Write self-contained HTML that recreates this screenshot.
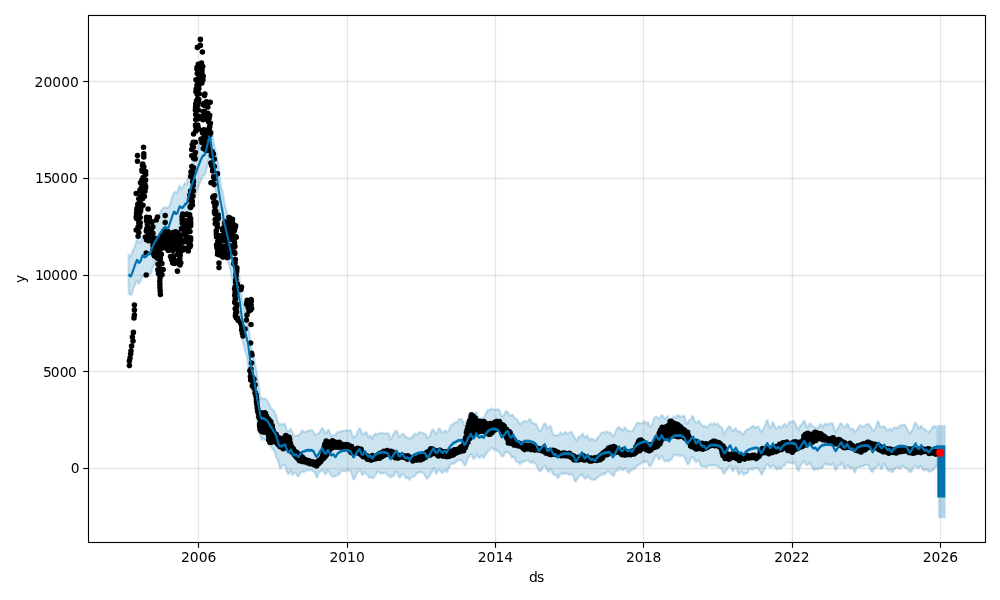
<!DOCTYPE html>
<html lang="en"><head><meta charset="utf-8"><title>Forecast plot</title>
<style>
html,body{margin:0;padding:0;background:#fff;}
body{width:1000px;height:600px;overflow:hidden;}
svg{display:block;}
text{font-family:"DejaVu Sans","Liberation Sans",sans-serif;font-size:13.89px;fill:#000;}
</style></head><body>
<svg width="1000" height="600" viewBox="0 0 1000 600">
<rect x="0" y="0" width="1000" height="600" fill="#fff"/>
<clipPath id="ax"><rect x="88.5" y="15.5" width="897.0" height="527.0"/></clipPath>
<g clip-path="url(#ax)">
<path d="M128.60,254.4 129.60,256.1 130.60,256.5 131.60,254.3 132.60,251.1 133.60,249.1 134.60,246.9 135.60,243.8 136.60,240.4 137.60,239.6 138.60,241.7 139.60,243.0 140.60,242.2 141.60,238.8 142.60,235.9 143.60,236.9 144.60,238.6 145.60,238.7 146.60,236.3 147.60,233.8 148.60,233.7 149.60,234.1 150.60,232.8 151.60,230.0 152.60,226.8 153.60,224.2 154.60,221.8 155.60,219.7 156.60,218.1 157.60,216.6 158.60,215.5 159.60,214.1 160.60,211.8 161.60,209.9 162.60,208.8 163.60,207.6 164.60,207.2 165.60,207.5 166.60,208.1 167.60,207.7 168.60,207.5 169.60,205.8 170.60,202.5 171.60,198.6 172.60,195.9 173.60,193.8 174.60,191.8 175.60,191.8 176.60,192.8 177.60,192.0 178.60,187.9 179.60,185.5 180.60,187.9 181.60,188.7 182.60,187.6 183.60,185.5 184.60,183.1 185.60,183.7 186.60,183.7 187.60,179.5 188.60,174.3 189.60,171.3 190.60,168.5 191.60,164.8 192.60,161.4 193.60,158.5 194.60,156.2 195.60,154.1 196.60,151.6 197.60,148.7 198.60,144.7 199.60,140.1 200.60,137.8 201.60,137.8 202.60,137.0 203.60,136.4 204.60,134.0 205.60,130.4 206.60,127.0 207.60,124.3 208.60,120.4 209.60,117.5 210.60,120.6 211.60,126.7 212.60,135.8 213.60,142.2 214.60,146.9 215.60,151.1 216.60,153.9 217.60,159.6 218.60,166.9 219.60,175.2 220.60,183.8 221.60,188.8 222.60,191.8 223.60,197.6 224.60,203.9 225.60,207.9 226.60,211.0 227.60,214.7 228.60,219.6 229.60,224.3 230.60,229.1 231.60,234.5 232.60,239.0 233.60,244.6 234.60,252.0 235.60,258.5 236.60,263.8 237.60,268.3 238.60,273.6 239.60,279.2 240.60,287.0 241.60,295.4 242.60,301.8 243.60,304.6 244.60,307.9 245.60,313.2 246.60,319.3 247.60,324.0 248.60,328.6 249.60,335.7 250.60,343.2 251.60,349.5 252.60,353.5 253.60,356.5 254.60,361.2 255.60,366.1 256.60,372.0 257.60,378.5 258.60,384.3 259.60,391.1 260.60,397.7 261.60,398.8 262.60,398.4 263.60,398.4 264.60,398.6 265.60,398.7 266.60,400.0 267.60,401.8 268.60,402.9 269.60,404.8 270.60,407.5 271.60,408.8 272.60,409.4 273.60,410.5 274.60,411.7 275.60,414.2 276.60,416.9 277.60,420.4 278.60,423.9 279.60,425.3 280.60,423.7 281.60,424.1 282.60,424.8 283.60,424.1 284.60,423.6 285.60,425.4 286.60,429.6 287.60,431.3 288.60,431.1 289.60,429.9 290.60,428.6 291.60,430.4 292.60,432.8 293.60,435.0 294.60,436.3 295.60,435.9 296.60,435.8 297.60,435.6 298.60,435.0 299.60,434.4 300.60,433.3 301.60,431.1 302.60,430.5 303.60,431.8 304.60,432.1 305.60,432.0 306.60,431.3 307.60,430.5 308.60,430.6 309.60,430.7 310.60,430.2 311.60,430.0 312.60,430.6 313.60,432.0 314.60,434.7 315.60,435.0 316.60,434.4 317.60,433.8 318.60,433.7 319.60,432.1 320.60,430.1 321.60,429.0 322.60,428.0 323.60,429.8 324.60,432.1 325.60,433.2 326.60,432.9 327.60,430.6 328.60,429.7 329.60,431.7 330.60,434.6 331.60,436.3 332.60,435.5 333.60,435.1 334.60,435.5 335.60,434.7 336.60,433.0 337.60,432.0 338.60,431.6 339.60,431.9 340.60,431.8 341.60,431.1 342.60,430.8 343.60,431.1 344.60,430.8 345.60,430.3 346.60,430.2 347.60,430.5 348.60,430.8 349.60,430.4 350.60,430.3 351.60,432.4 352.60,435.6 353.60,437.8 354.60,436.3 355.60,435.9 356.60,434.5 357.60,431.5 358.60,429.8 359.60,428.2 360.60,429.2 361.60,432.3 362.60,434.5 363.60,434.5 364.60,433.1 365.60,431.8 366.60,432.5 367.60,434.8 368.60,437.3 369.60,436.9 370.60,435.2 371.60,437.0 372.60,438.9 373.60,436.3 374.60,434.0 375.60,433.5 376.60,434.0 377.60,434.3 378.60,433.6 379.60,433.2 380.60,433.1 381.60,432.7 382.60,432.8 383.60,433.5 384.60,433.7 385.60,433.2 386.60,433.2 387.60,433.3 388.60,433.3 389.60,435.7 390.60,439.4 391.60,437.9 392.60,435.1 393.60,433.5 394.60,432.5 395.60,431.3 396.60,430.5 397.60,432.8 398.60,435.5 399.60,436.9 400.60,435.9 401.60,434.4 402.60,433.9 403.60,433.8 404.60,435.2 405.60,437.4 406.60,437.6 407.60,437.1 408.60,438.4 409.60,439.2 410.60,437.3 411.60,437.1 412.60,437.3 413.60,434.9 414.60,433.4 415.60,434.5 416.60,435.2 417.60,434.2 418.60,432.7 419.60,432.3 420.60,432.4 421.60,432.3 422.60,432.8 423.60,433.6 424.60,433.6 425.60,434.2 426.60,436.6 427.60,438.4 428.60,436.8 429.60,436.0 430.60,434.2 431.60,430.9 432.60,429.6 433.60,429.7 434.60,432.1 435.60,434.2 436.60,433.7 437.60,431.0 438.60,428.7 439.60,428.5 440.60,429.9 441.60,431.7 442.60,432.9 443.60,432.2 444.60,430.5 445.60,430.6 446.60,432.3 447.60,431.9 448.60,430.7 449.60,428.5 450.60,425.5 451.60,424.7 452.60,425.1 453.60,423.5 454.60,422.4 455.60,422.5 456.60,422.3 457.60,421.5 458.60,419.7 459.60,419.1 460.60,419.3 461.60,419.0 462.60,420.7 463.60,424.0 464.60,425.1 465.60,422.9 466.60,420.8 467.60,419.0 468.60,416.7 469.60,414.9 470.60,413.5 471.60,415.2 472.60,417.8 473.60,417.0 474.60,414.2 475.60,412.6 476.60,413.0 477.60,415.5 478.60,418.2 479.60,419.8 480.60,419.2 481.60,418.0 482.60,417.7 483.60,417.9 484.60,416.4 485.60,414.0 486.60,411.7 487.60,410.2 488.60,410.1 489.60,410.1 490.60,409.0 491.60,408.3 492.60,409.4 493.60,409.7 494.60,409.3 495.60,409.9 496.60,409.9 497.60,409.2 498.60,409.3 499.60,410.1 500.60,413.2 501.60,416.3 502.60,416.1 503.60,415.5 504.60,413.7 505.60,411.0 506.60,411.1 507.60,411.9 508.60,413.5 509.60,415.4 510.60,415.6 511.60,414.5 512.60,414.6 513.60,416.6 514.60,417.9 515.60,418.5 516.60,419.5 517.60,419.9 518.60,422.1 519.60,423.9 520.60,424.0 521.60,422.9 522.60,421.9 523.60,421.6 524.60,420.7 525.60,420.9 526.60,422.0 527.60,421.6 528.60,420.2 529.60,419.0 530.60,419.8 531.60,422.0 532.60,422.8 533.60,423.0 534.60,423.9 535.60,424.1 536.60,424.5 537.60,427.3 538.60,429.7 539.60,430.8 540.60,431.1 541.60,429.1 542.60,426.5 543.60,424.8 544.60,423.2 545.60,424.1 546.60,426.6 547.60,428.4 548.60,428.2 549.60,426.4 550.60,425.8 551.60,428.9 552.60,433.3 553.60,435.0 554.60,434.7 555.60,435.8 556.60,435.6 557.60,435.0 558.60,435.0 559.60,433.7 560.60,432.5 561.60,433.5 562.60,434.6 563.60,433.7 564.60,432.0 565.60,431.8 566.60,432.9 567.60,434.0 568.60,433.5 569.60,432.5 570.60,431.9 571.60,431.9 572.60,433.8 573.60,435.6 574.60,437.3 575.60,439.6 576.60,440.5 577.60,439.0 578.60,437.1 579.60,436.5 580.60,436.8 581.60,434.8 582.60,433.5 583.60,435.6 584.60,437.4 585.60,437.3 586.60,435.4 587.60,435.7 588.60,439.3 589.60,440.0 590.60,438.6 591.60,438.6 592.60,439.2 593.60,439.4 594.60,440.3 595.60,440.7 596.60,439.5 597.60,437.8 598.60,436.6 599.60,435.7 600.60,434.0 601.60,432.7 602.60,432.3 603.60,432.3 604.60,433.4 605.60,432.8 606.60,431.2 607.60,431.8 608.60,432.5 609.60,432.5 610.60,432.7 611.60,434.4 612.60,435.9 613.60,436.1 614.60,434.2 615.60,431.3 616.60,429.1 617.60,428.1 618.60,426.9 619.60,427.3 620.60,428.8 621.60,429.6 622.60,430.6 623.60,429.3 624.60,427.3 625.60,428.0 626.60,429.9 627.60,430.7 628.60,430.4 629.60,430.9 630.60,431.3 631.60,431.3 632.60,430.8 633.60,428.9 634.60,426.9 635.60,425.6 636.60,423.5 637.60,422.4 638.60,423.1 639.60,423.5 640.60,423.4 641.60,423.2 642.60,423.0 643.60,422.1 644.60,421.4 645.60,423.0 646.60,424.1 647.60,422.1 648.60,422.9 649.60,425.9 650.60,426.9 651.60,425.5 652.60,422.8 653.60,419.2 654.60,417.5 655.60,416.9 656.60,416.7 657.60,417.7 658.60,418.5 659.60,418.6 660.60,416.7 661.60,414.9 662.60,415.6 663.60,416.8 664.60,418.5 665.60,419.4 666.60,417.3 667.60,415.9 668.60,418.1 669.60,419.1 670.60,418.4 671.60,418.9 672.60,418.0 673.60,416.4 674.60,417.4 675.60,418.0 676.60,415.9 677.60,414.9 678.60,415.5 679.60,416.7 680.60,417.0 681.60,416.4 682.60,416.2 683.60,415.7 684.60,416.3 685.60,420.8 686.60,423.8 687.60,423.3 688.60,420.6 689.60,419.8 690.60,419.7 691.60,417.4 692.60,415.6 693.60,417.3 694.60,421.0 695.60,422.6 696.60,422.7 697.60,421.8 698.60,420.6 699.60,422.0 700.60,423.9 701.60,424.7 702.60,425.5 703.60,426.3 704.60,425.8 705.60,426.3 706.60,427.5 707.60,427.3 708.60,426.2 709.60,424.2 710.60,423.4 711.60,424.7 712.60,424.7 713.60,423.5 714.60,423.5 715.60,424.6 716.60,424.3 717.60,423.5 718.60,424.8 719.60,426.3 720.60,426.8 721.60,427.2 722.60,429.4 723.60,433.0 724.60,434.5 725.60,431.3 726.60,429.5 727.60,428.2 728.60,426.4 729.60,426.3 730.60,427.0 731.60,429.1 732.60,430.5 733.60,431.0 734.60,429.8 735.60,428.1 736.60,429.8 737.60,431.4 738.60,431.2 739.60,431.1 740.60,431.7 741.60,433.3 742.60,434.5 743.60,433.7 744.60,432.0 745.60,430.6 746.60,429.7 747.60,429.3 748.60,429.3 749.60,428.5 750.60,427.2 751.60,427.2 752.60,426.1 753.60,425.7 754.60,427.3 755.60,427.7 756.60,427.1 757.60,426.7 758.60,426.7 759.60,428.9 760.60,431.0 761.60,431.8 762.60,430.0 763.60,428.5 764.60,426.7 765.60,423.8 766.60,420.7 767.60,420.1 768.60,424.4 769.60,427.7 770.60,427.9 771.60,425.3 772.60,422.0 773.60,423.1 774.60,426.0 775.60,427.5 776.60,428.4 777.60,427.7 778.60,426.2 779.60,426.4 780.60,428.0 781.60,427.5 782.60,426.0 783.60,424.7 784.60,423.6 785.60,425.1 786.60,426.6 787.60,425.3 788.60,423.1 789.60,421.7 790.60,421.5 791.60,422.1 792.60,421.9 793.60,421.0 794.60,422.2 795.60,424.4 796.60,426.6 797.60,428.9 798.60,429.8 799.60,426.7 800.60,424.9 801.60,424.5 802.60,423.2 803.60,421.4 804.60,420.6 805.60,424.1 806.60,426.9 807.60,426.9 808.60,425.5 809.60,423.6 810.60,423.6 811.60,424.9 812.60,426.0 813.60,426.5 814.60,427.0 815.60,428.1 816.60,429.2 817.60,428.8 818.60,426.6 819.60,425.1 820.60,424.0 821.60,425.2 822.60,427.0 823.60,425.7 824.60,423.6 825.60,424.2 826.60,424.9 827.60,423.8 828.60,423.5 829.60,423.8 830.60,423.4 831.60,423.1 832.60,423.3 833.60,426.2 834.60,430.4 835.60,432.3 836.60,430.0 837.60,428.5 838.60,426.9 839.60,424.7 840.60,423.6 841.60,423.3 842.60,425.3 843.60,426.6 844.60,427.1 845.60,426.7 846.60,424.0 847.60,423.6 848.60,425.8 849.60,427.9 850.60,429.8 851.60,429.4 852.60,428.3 853.60,429.8 854.60,431.9 855.60,431.2 856.60,430.3 857.60,428.8 858.60,426.5 859.60,425.4 860.60,425.4 861.60,425.9 862.60,426.3 863.60,426.7 864.60,426.2 865.60,424.7 866.60,424.2 867.60,423.9 868.60,424.1 869.60,425.2 870.60,426.7 871.60,428.3 872.60,430.4 873.60,430.6 874.60,429.5 875.60,427.4 876.60,423.9 877.60,421.3 878.60,421.7 879.60,425.1 880.60,427.2 881.60,427.3 882.60,426.8 883.60,426.0 884.60,426.4 885.60,427.9 886.60,429.2 887.60,430.4 888.60,429.7 889.60,428.5 890.60,429.6 891.60,430.9 892.60,429.1 893.60,427.6 894.60,428.0 895.60,427.9 896.60,427.3 897.60,427.8 898.60,427.4 899.60,425.8 900.60,425.3 901.60,424.9 902.60,425.0 903.60,424.8 904.60,424.4 905.60,426.2 906.60,428.1 907.60,429.3 908.60,431.9 909.60,433.8 910.60,432.1 911.60,431.1 912.60,429.8 913.60,426.5 914.60,423.5 915.60,422.5 916.60,424.4 917.60,426.2 918.60,427.9 919.60,428.3 920.60,426.0 921.60,425.8 922.60,428.3 923.60,428.7 924.60,428.9 925.60,430.0 926.60,430.9 927.60,431.7 928.60,432.1 929.60,431.1 930.60,430.7 931.60,429.2 932.60,427.0 933.60,425.9 934.60,425.8 935.60,427.3 936.60,427.4 937.60,426.1 937.60,466.8 936.60,466.2 935.60,466.2 934.60,468.0 933.60,469.7 932.60,470.4 931.60,471.2 930.60,471.3 929.60,471.2 928.60,471.4 927.60,470.3 926.60,469.7 925.60,469.8 924.60,470.1 923.60,470.5 922.60,469.4 921.60,466.7 920.60,465.9 919.60,467.1 918.60,468.3 917.60,468.2 916.60,466.8 915.60,465.6 914.60,466.7 913.60,467.5 912.60,469.2 911.60,471.5 910.60,471.9 909.60,472.2 908.60,471.3 907.60,469.3 906.60,468.1 905.60,467.9 904.60,467.4 903.60,466.7 902.60,465.8 901.60,466.6 900.60,468.5 899.60,468.7 898.60,467.7 897.60,467.0 896.60,467.3 895.60,468.5 894.60,469.2 893.60,470.0 892.60,472.1 891.60,472.4 890.60,469.4 889.60,469.4 888.60,471.2 887.60,470.3 886.60,467.9 885.60,465.8 884.60,464.1 883.60,464.6 882.60,467.3 881.60,469.4 880.60,468.4 879.60,465.6 878.60,464.1 877.60,465.5 876.60,466.7 875.60,467.8 874.60,468.8 873.60,470.2 872.60,472.0 871.60,471.7 870.60,470.1 869.60,467.8 868.60,465.4 867.60,464.4 866.60,465.1 865.60,465.0 864.60,465.1 863.60,466.2 862.60,466.4 861.60,465.9 860.60,466.6 859.60,467.4 858.60,467.2 857.60,467.2 856.60,468.1 855.60,470.8 854.60,472.7 853.60,469.6 852.60,467.1 851.60,467.9 850.60,468.6 849.60,467.9 848.60,466.8 847.60,465.2 846.60,465.8 845.60,468.2 844.60,468.6 843.60,466.8 842.60,463.3 841.60,462.4 840.60,465.3 839.60,465.4 838.60,465.3 837.60,467.1 836.60,468.9 835.60,470.2 834.60,467.9 833.60,464.9 832.60,463.8 831.60,464.3 830.60,465.0 829.60,465.4 828.60,464.3 827.60,464.1 826.60,465.0 825.60,464.0 824.60,463.1 823.60,465.5 822.60,468.0 821.60,468.4 820.60,468.2 819.60,467.8 818.60,468.8 817.60,469.9 816.60,468.6 815.60,468.7 814.60,470.2 813.60,469.7 812.60,467.7 811.60,466.2 810.60,463.8 809.60,462.5 808.60,463.9 807.60,464.9 806.60,465.1 805.60,463.4 804.60,460.9 803.60,462.3 802.60,463.3 801.60,464.0 800.60,465.6 799.60,468.1 798.60,471.0 797.60,469.5 796.60,466.9 795.60,464.3 794.60,462.3 793.60,462.1 792.60,463.5 791.60,463.5 790.60,462.7 789.60,462.7 788.60,462.9 787.60,462.3 786.60,462.3 785.60,463.9 784.60,465.3 783.60,465.9 782.60,466.0 781.60,467.5 780.60,469.1 779.60,468.1 778.60,467.0 777.60,468.5 776.60,470.1 775.60,468.1 774.60,466.3 773.60,465.7 772.60,465.4 771.60,467.0 770.60,467.4 769.60,466.7 768.60,466.1 767.60,464.1 766.60,464.5 765.60,466.6 764.60,468.9 763.60,471.3 762.60,473.2 761.60,474.7 760.60,472.7 759.60,470.6 758.60,469.1 757.60,468.2 756.60,468.0 755.60,468.0 754.60,468.0 753.60,469.2 752.60,469.7 751.60,469.7 750.60,469.4 749.60,468.5 748.60,470.2 747.60,473.0 746.60,473.4 745.60,473.0 744.60,474.2 743.60,475.0 742.60,473.2 741.60,471.6 740.60,472.3 739.60,474.2 738.60,474.2 737.60,471.7 736.60,468.1 735.60,466.2 734.60,468.1 733.60,470.8 732.60,471.4 731.60,468.4 730.60,465.5 729.60,466.0 728.60,467.3 727.60,469.2 726.60,470.3 725.60,470.8 724.60,473.3 723.60,473.7 722.60,471.7 721.60,469.1 720.60,468.1 719.60,467.7 718.60,467.2 717.60,466.2 716.60,465.6 715.60,465.6 714.60,465.6 713.60,465.1 712.60,465.2 711.60,465.3 710.60,465.5 709.60,466.0 708.60,465.0 707.60,465.5 706.60,467.6 705.60,467.4 704.60,466.3 703.60,466.2 702.60,466.6 701.60,466.4 700.60,465.5 699.60,462.4 698.60,459.9 697.60,461.0 696.60,461.9 695.60,461.7 694.60,460.4 693.60,457.9 692.60,457.1 691.60,457.3 690.60,459.3 689.60,462.1 688.60,463.9 687.60,464.2 686.60,461.9 685.60,459.9 684.60,457.4 683.60,455.6 682.60,455.3 681.60,455.8 680.60,456.0 679.60,456.1 678.60,455.2 677.60,454.8 676.60,455.5 675.60,455.3 674.60,454.8 673.60,455.6 672.60,457.6 671.60,459.2 670.60,459.8 669.60,460.4 668.60,461.6 667.60,461.5 666.60,460.3 665.60,461.0 664.60,461.7 663.60,460.1 662.60,457.5 661.60,456.0 660.60,457.7 659.60,459.6 658.60,459.5 657.60,457.3 656.60,455.1 655.60,455.6 654.60,457.9 653.60,460.5 652.60,462.2 651.60,464.0 650.60,466.2 649.60,466.2 648.60,464.6 647.60,462.6 646.60,461.6 645.60,461.2 644.60,462.1 643.60,462.6 642.60,462.3 641.60,462.7 640.60,464.1 639.60,464.6 638.60,464.6 637.60,465.7 636.60,466.2 635.60,467.2 634.60,468.9 633.60,469.3 632.60,469.3 631.60,470.2 630.60,471.0 629.60,472.1 628.60,473.2 627.60,471.9 626.60,469.3 625.60,468.1 624.60,468.6 623.60,470.2 622.60,469.6 621.60,469.6 620.60,469.6 619.60,467.1 618.60,468.3 617.60,471.0 616.60,470.4 615.60,471.4 614.60,474.1 613.60,475.9 612.60,475.6 611.60,474.4 610.60,473.2 609.60,472.6 608.60,471.5 607.60,471.7 606.60,472.5 605.60,473.2 604.60,474.6 603.60,474.7 602.60,473.6 601.60,474.3 600.60,475.6 599.60,475.9 598.60,476.8 597.60,477.3 596.60,477.7 595.60,479.5 594.60,480.2 593.60,479.4 592.60,479.7 591.60,479.8 590.60,478.9 589.60,478.7 588.60,477.4 587.60,475.4 586.60,477.5 585.60,479.0 584.60,478.3 583.60,477.3 582.60,474.9 581.60,474.2 580.60,475.6 579.60,476.3 578.60,476.7 577.60,478.3 576.60,480.6 575.60,481.7 574.60,480.7 573.60,477.5 572.60,474.6 571.60,473.7 570.60,474.6 569.60,475.2 568.60,474.5 567.60,473.5 566.60,473.9 565.60,473.7 564.60,473.0 563.60,474.0 562.60,474.2 561.60,473.5 560.60,473.7 559.60,475.3 558.60,477.6 557.60,478.0 556.60,475.9 555.60,475.2 554.60,475.2 553.60,474.5 552.60,473.3 551.60,470.8 550.60,468.9 549.60,470.8 548.60,472.2 547.60,470.8 546.60,469.2 545.60,467.0 544.60,465.6 543.60,466.9 542.60,468.1 541.60,469.8 540.60,471.5 539.60,471.4 538.60,469.9 537.60,467.9 536.60,465.3 535.60,463.5 534.60,463.5 533.60,462.6 532.60,461.7 531.60,462.7 530.60,462.7 529.60,461.7 528.60,460.8 527.60,460.3 526.60,460.4 525.60,460.8 524.60,461.7 523.60,462.3 522.60,461.7 521.60,461.8 520.60,463.8 519.60,463.9 518.60,462.3 517.60,461.9 516.60,461.8 515.60,460.6 514.60,458.1 513.60,456.4 512.60,457.4 511.60,457.5 510.60,455.2 509.60,453.5 508.60,452.2 507.60,451.9 506.60,452.7 505.60,451.9 504.60,453.2 503.60,456.0 502.60,456.6 501.60,456.3 500.60,454.4 499.60,452.3 498.60,451.6 497.60,451.1 496.60,450.1 495.60,449.5 494.60,449.8 493.60,449.6 492.60,448.5 491.60,448.2 490.60,448.6 489.60,449.9 488.60,451.1 487.60,452.0 486.60,453.4 485.60,454.7 484.60,456.5 483.60,458.0 482.60,456.5 481.60,455.5 480.60,456.6 479.60,458.0 478.60,457.5 477.60,455.3 476.60,454.3 475.60,456.2 474.60,458.3 473.60,458.8 472.60,457.5 471.60,454.9 470.60,454.2 469.60,456.1 468.60,456.9 467.60,458.8 466.60,462.4 465.60,465.1 464.60,465.4 463.60,463.5 462.60,462.1 461.60,460.8 460.60,459.8 459.60,460.2 458.60,460.6 457.60,460.6 456.60,461.5 455.60,462.4 454.60,463.2 453.60,463.9 452.60,463.6 451.60,463.3 450.60,464.5 449.60,466.3 448.60,468.5 447.60,471.1 446.60,472.1 445.60,470.9 444.60,470.1 443.60,471.5 442.60,473.2 441.60,472.6 440.60,471.7 439.60,470.3 438.60,469.7 437.60,471.2 436.60,473.5 435.60,473.2 434.60,469.0 433.60,468.2 432.60,471.3 431.60,471.9 430.60,474.3 429.60,476.1 428.60,476.8 427.60,478.8 426.60,478.4 425.60,476.8 424.60,474.9 423.60,473.5 422.60,472.6 421.60,472.4 420.60,472.1 419.60,472.2 418.60,472.9 417.60,472.9 416.60,473.3 415.60,475.0 414.60,476.3 413.60,476.8 412.60,476.9 411.60,477.1 410.60,478.1 409.60,479.8 408.60,479.0 407.60,477.5 406.60,478.1 405.60,478.2 404.60,476.1 403.60,474.7 402.60,473.6 401.60,474.4 400.60,477.0 399.60,477.4 398.60,476.6 397.60,474.0 396.60,471.3 395.60,472.0 394.60,474.0 393.60,476.5 392.60,476.4 391.60,476.1 390.60,477.7 389.60,476.5 388.60,475.3 387.60,475.3 386.60,474.2 385.60,472.3 384.60,472.7 383.60,473.5 382.60,472.9 381.60,473.5 380.60,473.9 379.60,472.4 378.60,471.2 377.60,471.8 376.60,473.4 375.60,474.8 374.60,476.4 373.60,477.8 372.60,478.3 371.60,477.3 370.60,477.2 369.60,477.8 368.60,477.0 367.60,475.0 366.60,474.6 365.60,473.2 364.60,471.8 363.60,474.1 362.60,475.3 361.60,473.7 360.60,470.7 359.60,469.3 358.60,471.2 357.60,472.1 356.60,474.1 355.60,476.8 354.60,478.5 353.60,479.5 352.60,477.3 351.60,474.2 350.60,470.6 349.60,469.7 348.60,470.9 347.60,470.7 346.60,470.7 345.60,471.4 344.60,471.0 343.60,470.9 342.60,470.8 341.60,470.8 340.60,471.9 339.60,473.8 338.60,474.9 337.60,474.6 336.60,475.3 335.60,476.7 334.60,476.2 333.60,476.3 332.60,476.8 331.60,476.0 330.60,474.7 329.60,473.0 328.60,470.5 327.60,470.2 326.60,473.1 325.60,474.6 324.60,473.4 323.60,470.8 322.60,469.6 321.60,471.0 320.60,471.5 319.60,471.8 318.60,473.5 317.60,476.4 316.60,477.5 315.60,474.7 314.60,472.5 313.60,471.4 312.60,471.2 311.60,470.2 310.60,470.2 309.60,470.3 308.60,470.2 307.60,470.3 306.60,470.6 305.60,471.0 304.60,471.7 303.60,472.1 302.60,471.7 301.60,472.3 300.60,472.9 299.60,474.1 298.60,476.6 297.60,476.3 296.60,474.3 295.60,472.8 294.60,472.5 293.60,473.8 292.60,475.0 291.60,472.1 290.60,470.4 289.60,473.1 288.60,474.0 287.60,473.2 286.60,470.4 285.60,466.3 284.60,465.3 283.60,465.2 282.60,465.4 281.60,467.0 280.60,468.5 279.60,467.3 278.60,462.8 277.60,459.6 276.60,457.8 275.60,455.8 274.60,452.0 273.60,450.0 272.60,448.9 271.60,447.5 270.60,446.4 269.60,445.4 268.60,443.3 267.60,440.9 266.60,439.8 265.60,440.0 264.60,440.0 263.60,438.3 262.60,438.7 261.60,440.0 260.60,437.3 259.60,430.0 258.60,424.5 257.60,421.3 256.60,417.1 255.60,411.2 254.60,403.6 253.60,397.5 252.60,394.2 251.60,389.4 250.60,383.9 249.60,378.2 248.60,369.7 247.60,361.5 246.60,355.7 245.60,352.3 244.60,349.3 243.60,345.0 242.60,341.0 241.60,336.3 240.60,329.5 239.60,321.0 238.60,314.3 237.60,307.0 236.60,301.4 235.60,297.5 234.60,292.0 233.60,285.8 232.60,281.6 231.60,276.5 230.60,270.2 229.60,266.8 228.60,263.4 227.60,258.4 226.60,253.7 225.60,249.2 224.60,244.1 223.60,237.6 222.60,231.3 221.60,226.4 220.60,221.0 219.60,214.5 218.60,208.4 217.60,202.2 216.60,195.5 215.60,190.5 214.60,186.4 213.60,181.5 212.60,174.7 211.60,168.1 210.60,162.0 209.60,156.9 208.60,159.5 207.60,164.3 206.60,168.8 205.60,173.0 204.60,175.6 203.60,176.0 202.60,175.9 201.60,179.2 200.60,181.3 199.60,183.8 198.60,186.3 197.60,187.9 196.60,191.5 195.60,195.1 194.60,196.4 193.60,199.3 192.60,203.7 191.60,206.8 190.60,209.8 189.60,213.1 188.60,216.4 187.60,220.4 186.60,223.9 185.60,224.6 184.60,224.0 183.60,226.0 182.60,227.7 181.60,226.8 180.60,226.0 179.60,226.4 178.60,229.5 177.60,232.0 176.60,233.6 175.60,234.9 174.60,234.3 173.60,235.6 172.60,237.9 171.60,239.2 170.60,242.4 169.60,246.3 168.60,249.0 167.60,250.0 166.60,249.4 165.60,248.4 164.60,248.8 163.60,249.3 162.60,250.4 161.60,251.3 160.60,252.3 159.60,254.2 158.60,255.8 157.60,256.9 156.60,258.6 155.60,261.2 154.60,263.5 153.60,265.4 152.60,267.8 151.60,271.0 150.60,273.8 149.60,275.2 148.60,274.4 147.60,273.2 146.60,273.6 145.60,275.1 144.60,276.1 143.60,276.1 142.60,276.1 141.60,278.6 140.60,281.0 139.60,283.1 138.60,283.8 137.60,281.0 136.60,280.6 135.60,284.2 134.60,286.1 133.60,287.6 132.60,291.2 131.60,294.4 130.60,294.9 129.60,294.2 128.60,293.5Z" fill="#0072B2" fill-opacity="0.2" stroke="#0072B2" stroke-opacity="0.2" stroke-width="2.2" stroke-linejoin="round"/>
<rect x="938.2" y="425.2" width="7.4" height="93" fill="#0072B2" fill-opacity="0.29"/>
</g>
<g stroke="#808080" stroke-opacity="0.2" stroke-width="1.39" fill="none">
<line x1="198.5" y1="15.5" x2="198.5" y2="542.5"/><line x1="347.5" y1="15.5" x2="347.5" y2="542.5"/><line x1="495.5" y1="15.5" x2="495.5" y2="542.5"/><line x1="643.5" y1="15.5" x2="643.5" y2="542.5"/><line x1="792.5" y1="15.5" x2="792.5" y2="542.5"/><line x1="940.5" y1="15.5" x2="940.5" y2="542.5"/><line x1="88.5" y1="468.5" x2="985.5" y2="468.5"/><line x1="88.5" y1="371.5" x2="985.5" y2="371.5"/><line x1="88.5" y1="275.5" x2="985.5" y2="275.5"/><line x1="88.5" y1="178.5" x2="985.5" y2="178.5"/><line x1="88.5" y1="81.5" x2="985.5" y2="81.5"/></g>
<g clip-path="url(#ax)">
<path d="M129.4,365.6h0M129.4,361.0h0M130.0,358.0h0M130.6,354.0h0M131.0,351.0h0M131.6,346.0h0M133.0,341.0h0M132.4,337.0h0M133.4,332.4h0M134.0,318.0h0M134.4,315.0h0M134.4,310.0h0M134.4,305.0h0M140.0,201.2h0M141.2,205.0h0M138.8,208.8h0M140.0,212.5h0M136.2,216.9h0M138.1,219.4h0M138.8,222.5h0M138.1,226.9h0M136.2,230.0h0M138.8,232.5h0M138.1,236.2h0M143.5,147.2h0M137.5,155.6h0M143.8,153.8h0M143.8,156.9h0M137.5,161.2h0M143.8,166.9h0M141.9,170.0h0M145.0,171.9h0M145.6,174.4h0M143.1,177.5h0M145.6,180.0h0M143.1,182.5h0M145.6,186.2h0M140.0,190.0h0M145.0,191.2h0M136.2,193.5h0M142.5,193.8h0M138.8,198.8h0M142.5,198.8h0M140.0,202.5h0M141.2,206.2h0M148.1,209.0h0M139.4,210.0h0M138.8,213.8h0M142.5,165.5h0M141.4,187.8h0M140.2,222.8h0M141.8,190.1h0M144.6,182.0h0M139.1,222.0h0M137.8,204.2h0M142.4,188.3h0M142.8,192.5h0M139.1,204.5h0M140.5,182.8h0M138.4,203.7h0M143.3,181.9h0M140.2,217.5h0M144.8,183.8h0M143.0,205.2h0M141.8,194.7h0M140.7,210.5h0M136.6,213.3h0M144.2,181.6h0M139.9,210.8h0M136.6,218.4h0M139.9,226.2h0M139.6,227.2h0M145.6,171.5h0M141.9,180.0h0M139.7,203.0h0M141.2,206.9h0M142.8,164.1h0M139.9,190.3h0M137.0,208.2h0M142.1,171.3h0M140.7,196.8h0M144.3,172.3h0M137.7,218.7h0M138.6,212.6h0M145.6,187.7h0M144.4,196.4h0M136.8,210.2h0M143.5,196.3h0M146.2,253.0h0M146.2,275.0h0M157.5,217.0h0M156.3,220.0h0M165.2,215.6h0M165.2,222.5h0M177.5,271.2h0M160.6,273.8h0M177.4,271.0h0M146.8,236.7h0M148.0,237.0h0M152.8,226.9h0M148.5,240.7h0M150.9,221.3h0M146.5,220.8h0M152.3,237.2h0M146.6,237.7h0M152.9,233.4h0M148.1,230.7h0M146.5,217.4h0M152.8,233.2h0M149.4,240.3h0M148.8,238.8h0M151.7,222.3h0M147.4,224.3h0M147.3,231.7h0M147.4,227.5h0M146.5,239.8h0M148.2,228.5h0M149.9,239.6h0M148.7,239.9h0M149.3,230.3h0M149.4,217.5h0M148.8,221.6h0M145.5,237.0h0M146.8,228.8h0M150.9,230.9h0M147.9,230.0h0M149.7,236.6h0M146.3,231.0h0M147.4,223.9h0M151.3,229.7h0M149.7,236.0h0M159.1,257.2h0M158.0,264.3h0M157.4,258.3h0M160.1,271.3h0M158.5,273.8h0M161.6,243.2h0M153.8,254.8h0M153.3,247.1h0M161.0,272.1h0M159.6,243.4h0M162.0,274.8h0M156.8,256.5h0M163.2,269.6h0M154.2,254.4h0M158.1,250.9h0M154.6,250.1h0M160.3,238.7h0M158.5,254.7h0M152.7,250.6h0M159.2,257.5h0M161.0,274.9h0M153.6,248.1h0M155.4,242.9h0M161.3,247.8h0M158.7,264.6h0M153.5,240.2h0M159.9,254.2h0M159.4,268.5h0M157.4,250.9h0M158.5,273.2h0M155.4,242.9h0M158.2,247.1h0M153.7,244.1h0M153.0,245.7h0M155.9,249.6h0M160.7,249.0h0M157.9,244.8h0M156.2,238.7h0M155.2,238.6h0M160.4,258.9h0M154.5,256.0h0M161.3,254.4h0M157.8,269.7h0M156.7,257.3h0M159.9,275.3h0M160.1,262.2h0M156.9,251.2h0M153.1,242.9h0M155.3,244.2h0M161.9,263.5h0M155.5,247.2h0M155.7,255.5h0M154.2,254.9h0M155.8,251.6h0M152.5,252.5h0M160.3,275.0h0M160.0,278.2h0M159.8,281.2h0M159.9,284.6h0M159.9,287.5h0M160.2,290.9h0M160.4,294.4h0M167.0,241.1h0M168.4,243.8h0M168.1,248.5h0M165.3,236.8h0M170.4,233.1h0M168.2,243.5h0M162.4,247.5h0M169.6,243.2h0M168.2,247.1h0M163.2,241.0h0M166.3,247.5h0M168.8,247.4h0M167.0,248.7h0M167.8,244.6h0M164.0,230.7h0M163.1,237.6h0M162.9,247.6h0M166.7,243.2h0M167.3,244.3h0M166.2,230.1h0M168.8,245.7h0M166.3,241.2h0M167.6,231.4h0M168.3,235.3h0M162.6,235.6h0M168.2,234.3h0M168.3,250.5h0M166.2,238.0h0M166.1,244.4h0M168.5,243.0h0M167.5,231.6h0M163.3,235.3h0M168.3,236.4h0M166.8,230.3h0M171.1,240.1h0M177.6,254.5h0M177.6,240.9h0M175.9,246.8h0M175.4,235.0h0M179.9,237.8h0M180.8,262.8h0M170.7,246.6h0M179.1,263.9h0M175.2,240.1h0M172.7,263.1h0M172.7,250.8h0M172.0,248.8h0M180.5,235.5h0M179.1,248.3h0M179.8,254.9h0M172.9,261.5h0M175.6,231.8h0M170.5,247.7h0M175.2,241.3h0M172.0,242.7h0M173.8,259.6h0M170.5,256.5h0M179.3,235.1h0M180.2,255.2h0M180.0,240.9h0M174.4,244.4h0M181.0,251.0h0M174.3,245.6h0M173.4,232.6h0M171.6,259.4h0M173.5,262.8h0M173.1,240.0h0M175.9,237.5h0M174.4,263.5h0M179.8,258.6h0M177.1,262.1h0M180.4,249.7h0M178.1,232.7h0M178.2,246.3h0M178.4,252.9h0M173.5,232.7h0M180.2,235.3h0M175.5,242.7h0M173.6,256.1h0M180.8,239.8h0M177.4,241.2h0M176.4,244.4h0M172.3,236.5h0M172.7,261.8h0M175.7,238.5h0M180.0,264.9h0M175.2,235.7h0M172.5,234.1h0M174.1,234.1h0M173.0,239.8h0M176.5,261.2h0M178.4,245.0h0M174.8,248.8h0M174.5,242.5h0M171.2,240.4h0M180.7,235.3h0M186.0,237.3h0M189.6,222.0h0M183.7,223.2h0M185.0,230.5h0M190.5,245.4h0M189.7,214.8h0M181.3,240.3h0M190.0,231.5h0M186.9,214.0h0M184.9,248.3h0M189.3,245.7h0M190.7,223.2h0M182.1,219.7h0M186.2,239.2h0M190.4,240.7h0M187.5,242.3h0M185.6,234.4h0M181.4,242.9h0M183.3,248.0h0M187.5,225.2h0M182.3,223.3h0M187.4,239.8h0M182.1,216.6h0M186.2,235.6h0M184.9,222.3h0M187.0,214.4h0M184.0,231.0h0M190.6,237.8h0M189.8,231.6h0M183.3,223.1h0M190.6,240.1h0M184.1,214.8h0M186.0,239.0h0M185.2,223.5h0M187.7,248.2h0M183.3,215.3h0M184.4,229.6h0M187.8,221.3h0M189.0,241.3h0M186.0,221.6h0M190.7,225.5h0M189.2,222.5h0M183.2,242.1h0M183.9,249.2h0M186.0,220.9h0M183.2,229.4h0M187.7,249.1h0M182.5,228.6h0M183.1,250.0h0M182.4,215.9h0M181.6,228.6h0M190.0,246.7h0M188.3,250.9h0M190.3,226.2h0M182.9,248.6h0M188.5,215.2h0M187.6,228.0h0M184.7,226.3h0M182.7,214.1h0M183.8,227.0h0M190.6,218.6h0M190.6,221.7h0M190.0,200.0h0M190.6,207.5h0M192.8,181.9h0M197.7,125.1h0M193.0,196.2h0M198.5,66.4h0M193.4,180.5h0M197.1,67.9h0M198.8,99.5h0M191.8,166.6h0M199.0,65.5h0M193.6,134.0h0M198.8,88.7h0M195.4,109.9h0M197.3,73.5h0M191.1,171.9h0M192.5,205.1h0M196.5,127.3h0M196.0,79.7h0M197.9,104.9h0M196.8,91.1h0M190.6,191.1h0M199.5,76.9h0M198.9,116.3h0M198.2,127.6h0M191.8,175.6h0M199.0,77.4h0M195.3,152.5h0M191.7,149.5h0M195.9,91.7h0M196.2,89.0h0M193.2,142.3h0M192.3,201.2h0M192.3,144.7h0M196.7,91.7h0M193.5,181.8h0M193.3,190.9h0M198.8,118.6h0M197.7,85.4h0M197.3,94.4h0M193.3,185.6h0M197.8,88.7h0M197.0,67.6h0M197.9,79.2h0M195.4,142.3h0M195.6,106.7h0M193.5,147.1h0M193.5,158.2h0M199.1,81.9h0M191.1,205.3h0M198.7,86.1h0M197.0,85.2h0M198.5,102.1h0M197.6,83.0h0M190.7,198.7h0M190.8,176.6h0M195.7,114.5h0M190.1,207.0h0M195.7,119.6h0M197.5,100.7h0M192.8,173.6h0M196.9,69.1h0M197.7,99.0h0M195.2,158.9h0M195.5,125.1h0M195.6,131.3h0M190.4,198.7h0M195.8,126.8h0M191.6,193.9h0M199.0,82.8h0M194.4,155.7h0M197.6,87.5h0M196.9,129.9h0M196.9,128.1h0M192.6,171.4h0M196.5,100.8h0M191.8,155.7h0M199.2,93.7h0M198.3,64.2h0M196.9,109.7h0M198.3,110.0h0M191.5,194.5h0M193.6,167.8h0M189.8,195.0h0M190.1,197.6h0M192.9,181.4h0M195.7,104.0h0M200.4,39.4h0M200.4,45.4h0M197.4,47.4h0M202.4,52.0h0M201.5,63.1h0M202.8,66.6h0M201.9,73.6h0M201.3,68.2h0M201.9,82.9h0M202.0,70.3h0M203.2,76.1h0M203.0,79.8h0M201.4,73.2h0M205.5,138.4h0M204.3,134.3h0M206.7,105.0h0M210.2,102.2h0M209.5,150.7h0M206.1,139.8h0M204.3,141.9h0M203.3,148.6h0M203.5,104.9h0M208.7,121.9h0M201.0,139.3h0M208.7,139.2h0M207.8,113.3h0M205.0,115.7h0M204.7,145.0h0M202.9,119.7h0M206.6,137.3h0M209.4,130.8h0M204.4,111.6h0M201.9,142.6h0M208.3,136.5h0M209.7,126.8h0M208.8,142.6h0M203.1,111.6h0M206.5,101.7h0M204.1,103.4h0M209.2,118.1h0M202.5,130.3h0M204.9,94.0h0M205.0,139.5h0M208.7,122.0h0M207.9,119.8h0M205.1,136.5h0M207.2,136.9h0M205.3,105.7h0M209.0,144.8h0M209.7,134.0h0M210.7,132.8h0M208.0,119.2h0M203.9,129.7h0M209.8,134.8h0M207.9,107.0h0M205.3,119.3h0M207.8,116.6h0M208.4,147.8h0M202.3,131.3h0M209.7,115.3h0M206.1,150.5h0M202.0,138.9h0M206.8,135.0h0M206.4,130.4h0M210.4,123.3h0M205.1,148.9h0M202.6,133.1h0M204.9,137.8h0M204.4,95.4h0M203.4,116.0h0M205.3,133.9h0M214.4,178.9h0M215.7,211.3h0M219.5,239.0h0M214.6,177.6h0M213.6,176.7h0M213.8,202.3h0M215.2,219.5h0M211.6,165.6h0M214.3,166.6h0M217.2,235.2h0M217.9,247.4h0M219.2,241.4h0M216.3,230.9h0M213.1,165.2h0M215.9,204.3h0M215.6,211.3h0M217.8,241.6h0M214.6,195.7h0M217.5,219.3h0M218.0,251.5h0M216.1,202.8h0M218.4,218.2h0M214.5,201.7h0M216.3,234.0h0M212.8,197.4h0M215.1,210.4h0M217.7,236.3h0M214.1,184.6h0M217.5,235.5h0M211.0,182.7h0M217.7,236.0h0M217.3,218.3h0M218.2,215.0h0M212.5,154.0h0M219.0,249.6h0M219.5,235.7h0M213.8,196.0h0M214.0,196.9h0M217.6,251.8h0M210.9,163.0h0M212.2,151.7h0M211.9,151.9h0M218.3,243.2h0M217.4,227.3h0M214.5,212.7h0M215.3,223.8h0M218.2,240.2h0M217.1,247.7h0M215.1,213.9h0M219.5,246.7h0M219.4,244.5h0M219.9,238.0h0M218.0,249.6h0M214.3,159.3h0M216.6,236.9h0M217.2,223.9h0M216.9,247.8h0M215.7,214.2h0M212.6,171.0h0M214.5,211.5h0M214.9,206.4h0M212.1,154.9h0M219.5,255.0h0M213.3,154.1h0M212.7,169.7h0M211.4,155.6h0M216.6,244.9h0M217.5,254.2h0M219.0,263.0h0M219.0,267.6h0M217.5,173.8h0M231.7,233.1h0M228.2,223.5h0M225.1,231.4h0M233.6,246.1h0M231.8,229.3h0M230.5,248.1h0M222.7,230.3h0M225.1,222.1h0M228.7,223.9h0M224.8,222.9h0M232.5,225.0h0M224.5,255.3h0M234.9,253.4h0M223.2,235.3h0M222.6,255.1h0M234.5,242.8h0M228.2,230.9h0M234.2,236.6h0M231.1,222.9h0M232.4,239.7h0M223.3,252.7h0M225.3,233.9h0M223.5,228.1h0M234.4,230.7h0M223.7,237.1h0M226.1,254.0h0M222.8,257.1h0M221.9,253.7h0M231.7,225.7h0M228.6,228.7h0M225.1,225.3h0M226.8,257.6h0M222.6,228.9h0M232.6,229.0h0M233.9,231.0h0M234.3,238.6h0M224.0,234.8h0M235.6,225.9h0M230.1,222.7h0M223.9,248.6h0M232.4,225.1h0M230.7,237.3h0M225.4,225.4h0M230.8,246.0h0M234.0,240.9h0M232.7,233.7h0M232.5,219.3h0M234.0,230.7h0M234.5,252.4h0M228.9,217.6h0M235.6,236.5h0M235.0,227.9h0M224.0,251.1h0M226.9,223.7h0M226.9,241.4h0M228.1,238.1h0M222.9,246.3h0M234.1,252.5h0M226.1,246.2h0M227.1,247.8h0M222.0,252.8h0M236.3,237.3h0M229.2,238.8h0M229.6,217.8h0M225.0,250.5h0M232.2,225.0h0M230.2,238.4h0M232.2,221.2h0M234.9,246.4h0M228.9,237.5h0M225.5,222.0h0M227.5,222.6h0M230.5,252.3h0M223.4,240.5h0M232.9,223.7h0M227.2,234.2h0M234.4,238.6h0M227.3,255.6h0M233.4,230.9h0M224.8,230.7h0M228.0,257.2h0M234.0,251.8h0M221.9,238.2h0M225.0,234.3h0M231.1,231.9h0M235.4,259.6h0M235.1,263.0h0M233.8,263.8h0M236.9,267.8h0M236.8,269.3h0M236.5,272.1h0M236.7,271.3h0M236.0,274.0h0M236.1,276.0h0M235.7,280.0h0M236.0,279.9h0M235.7,282.4h0M237.2,283.9h0M235.1,287.0h0M234.6,288.8h0M237.3,290.5h0M235.1,292.3h0M236.0,293.3h0M234.7,295.2h0M235.3,298.0h0M235.3,299.5h0M234.7,302.4h0M237.1,304.6h0M236.3,306.7h0M235.2,308.8h0M236.0,310.3h0M236.6,312.0h0M235.6,313.2h0M235.4,316.1h0M236.3,318.0h0M241.5,287.0h0M241.0,289.5h0M237.4,318.1h0M238.2,320.5h0M240.6,323.0h0M241.6,326.0h0M241.7,329.9h0M242.3,333.0h0M243.0,336.0h0M247.2,300.3h0M251.1,304.8h0M246.6,304.2h0M248.7,308.3h0M246.9,302.2h0M251.6,308.4h0M247.1,303.5h0M248.2,307.6h0M249.7,309.7h0M250.8,305.7h0M250.4,308.4h0M250.5,305.2h0M250.6,308.0h0M251.3,301.0h0M251.1,299.6h0M250.5,306.5h0M249.0,311.1h0M249.4,304.5h0M250.6,310.0h0M249.6,304.1h0M248.8,305.0h0M250.3,303.0h0M248.4,306.2h0M248.4,303.4h0M247.0,315.0h0M246.5,320.0h0M251.0,324.5h0M245.0,329.0h0M250.6,343.0h0M251.6,353.4h0M252.0,355.0h0M251.5,363.0h0M251.0,369.0h0M251.0,373.0h0M254.0,388.0h0M254.7,384.9h0M252.9,377.8h0M250.9,375.3h0M250.7,380.1h0M255.0,384.7h0M252.4,385.9h0M249.9,370.8h0M253.3,378.7h0M253.0,379.1h0M252.0,380.4h0M254.0,379.2h0M250.4,376.6h0M252.3,379.8h0M253.4,385.4h0M252.5,380.9h0M253.1,384.3h0M255.2,392.9h0M256.1,394.7h0M255.9,395.6h0M256.4,397.5h0M256.5,399.2h0M256.8,400.2h0M256.4,401.6h0M256.9,403.2h0M256.8,404.4h0M257.3,406.2h0M257.3,408.0h0M257.7,408.7h0M257.7,410.8h0M258.0,412.0h0M258.7,413.3h0M258.7,416.8h0M258.9,415.3h0M258.9,413.8h0M259.5,412.7h0M259.6,426.1h0M259.6,426.2h0M259.6,418.4h0M259.4,415.1h0M259.7,414.4h0M259.4,415.2h0M259.6,423.9h0M260.4,413.4h0M260.0,429.2h0M260.4,418.2h0M260.4,418.7h0M260.2,417.3h0M260.1,427.7h0M260.3,418.6h0M260.3,419.2h0M260.1,427.4h0M260.3,428.6h0M261.0,412.8h0M260.8,430.7h0M261.2,428.0h0M261.0,428.8h0M261.2,418.3h0M261.1,429.9h0M261.0,429.7h0M260.9,419.8h0M261.1,416.9h0M261.0,428.4h0M261.8,413.4h0M261.6,431.6h0M261.7,416.4h0M262.0,418.3h0M261.8,415.1h0M261.8,420.1h0M261.8,414.2h0M261.6,428.1h0M261.7,417.5h0M261.7,418.2h0M261.7,413.6h0M262.6,413.0h0M262.7,431.4h0M262.4,418.1h0M262.7,415.4h0M262.5,428.9h0M262.7,416.0h0M262.5,426.8h0M262.5,431.3h0M262.4,431.1h0M262.6,417.3h0M262.5,415.5h0M263.4,413.2h0M263.4,430.4h0M263.2,417.8h0M263.3,417.1h0M263.4,415.4h0M263.3,423.5h0M263.2,428.0h0M263.3,425.8h0M263.3,419.0h0M263.3,414.7h0M263.2,429.5h0M263.9,413.1h0M264.1,432.3h0M264.0,422.6h0M264.0,414.3h0M264.0,417.3h0M263.9,426.8h0M264.0,420.8h0M264.2,427.9h0M264.2,429.6h0M263.9,418.3h0M263.9,426.1h0M264.9,412.8h0M264.9,431.1h0M264.9,417.7h0M264.9,419.7h0M264.9,416.4h0M264.6,430.4h0M264.9,426.6h0M264.6,413.7h0M264.7,416.8h0M264.7,420.2h0M264.6,418.9h0M265.6,414.7h0M265.6,430.3h0M265.6,418.4h0M265.5,426.2h0M265.5,413.7h0M265.7,427.9h0M265.5,414.5h0M265.7,424.8h0M265.4,418.2h0M265.4,428.2h0M265.4,430.5h0M266.4,416.1h0M266.2,431.1h0M266.4,429.1h0M266.2,416.3h0M266.5,422.1h0M266.5,426.7h0M266.4,429.1h0M266.4,422.5h0M266.1,426.8h0M266.3,423.6h0M267.3,422.5h0M266.8,428.0h0M267.1,427.7h0M267.0,425.6h0M267.2,426.4h0M267.1,423.3h0M267.5,420.9h0M267.6,432.9h0M267.7,422.9h0M267.9,429.6h0M267.7,424.2h0M267.8,426.8h0M268.0,425.6h0M267.7,432.4h0M268.3,418.7h0M268.7,440.0h0M268.6,435.0h0M268.4,433.1h0M268.6,428.7h0M268.7,436.5h0M268.4,425.1h0M268.5,423.4h0M268.4,425.0h0M268.4,433.8h0M268.5,421.4h0M268.5,428.9h0M269.2,420.7h0M269.0,439.9h0M269.5,435.4h0M269.1,434.8h0M269.5,431.7h0M269.1,430.2h0M269.3,424.1h0M269.3,420.4h0M269.5,433.3h0M269.4,439.2h0M269.4,425.3h0M269.2,423.1h0M269.8,422.0h0M269.9,442.2h0M269.9,433.9h0M270.2,439.5h0M269.9,436.8h0M270.2,435.9h0M270.0,425.1h0M270.2,427.7h0M270.0,432.2h0M270.0,437.7h0M269.9,422.3h0M270.8,421.9h0M270.9,442.2h0M271.0,440.4h0M270.8,432.0h0M270.7,428.3h0M270.8,424.2h0M270.9,425.7h0M270.8,440.8h0M270.6,423.4h0M270.8,426.2h0M270.9,422.7h0M271.8,426.1h0M271.5,442.2h0M271.5,435.8h0M271.6,431.9h0M271.5,432.2h0M271.6,438.6h0M271.7,427.6h0M271.5,432.2h0M271.6,430.7h0M271.4,426.3h0M272.2,425.8h0M272.5,440.5h0M272.4,441.0h0M272.5,436.1h0M272.4,428.4h0M272.4,435.9h0M272.2,435.4h0M272.5,434.2h0M273.1,430.2h0M273.3,440.2h0M272.9,432.2h0M273.1,435.1h0M272.9,437.4h0M273.0,436.6h0M273.0,436.0h0M273.8,432.8h0M273.6,440.5h0M274.0,437.3h0M273.6,439.9h0M273.7,433.6h0M273.8,434.9h0M274.5,433.4h0M274.6,441.2h0M274.4,437.6h0M274.6,434.2h0M274.5,434.2h0M275.3,434.8h0M275.4,442.1h0M275.4,434.7h0M275.5,439.5h0M275.1,440.3h0M276.0,435.3h0M276.1,440.0h0M276.2,435.2h0M276.2,434.5h0M275.9,437.1h0M276.5,435.4h0M276.7,442.8h0M276.9,438.7h0M277.0,440.1h0M276.9,439.7h0M277.8,437.7h0M277.7,443.6h0M277.5,442.0h0M277.6,442.4h0M277.4,439.5h0M278.4,439.6h0M278.0,444.6h0M278.3,438.7h0M278.3,443.2h0M278.1,444.0h0M279.2,438.5h0M279.0,444.8h0M279.2,442.5h0M278.9,438.4h0M278.9,444.1h0M279.6,438.1h0M279.9,446.6h0M279.8,439.6h0M280.0,442.9h0M279.9,445.1h0M280.0,438.5h0M280.5,440.0h0M280.8,446.2h0M280.7,439.4h0M280.4,445.8h0M280.6,442.3h0M280.5,440.4h0M281.5,439.0h0M281.4,446.4h0M281.1,442.5h0M281.2,446.9h0M281.3,440.3h0M281.9,440.6h0M282.1,447.1h0M282.0,443.4h0M281.9,445.0h0M282.0,441.0h0M282.8,442.3h0M282.6,448.1h0M282.9,443.6h0M282.7,445.1h0M282.7,445.5h0M283.6,443.2h0M283.3,448.7h0M283.6,446.6h0M283.7,446.6h0M283.6,445.5h0M284.2,438.4h0M284.5,446.5h0M284.5,445.1h0M284.2,445.9h0M284.4,443.4h0M284.4,441.8h0M285.1,436.5h0M285.0,447.5h0M285.0,447.8h0M285.0,440.7h0M284.9,439.2h0M285.0,438.0h0M284.9,446.5h0M285.8,435.6h0M285.7,446.2h0M285.7,437.0h0M285.7,439.5h0M285.9,442.1h0M286.0,439.9h0M286.0,442.4h0M286.3,436.8h0M286.8,444.4h0M286.5,443.5h0M286.5,444.4h0M286.4,440.7h0M286.7,438.7h0M287.2,436.9h0M287.2,445.0h0M287.4,438.1h0M287.3,438.0h0M287.3,444.1h0M287.4,437.9h0M288.2,437.9h0M287.8,446.0h0M288.2,444.9h0M288.0,437.8h0M287.9,441.6h0M288.2,442.6h0M289.1,437.3h0M288.9,445.8h0M288.9,440.9h0M288.9,440.2h0M288.6,441.0h0M288.6,443.1h0M289.5,438.7h0M289.4,447.5h0M289.5,439.6h0M289.7,444.2h0M289.7,439.9h0M289.6,445.5h0M290.2,443.5h0M290.1,448.4h0M290.4,443.4h0M290.4,445.4h0M290.3,446.4h0M291.1,445.8h0M290.9,450.7h0M291.1,447.1h0M291.1,449.1h0M292.0,447.4h0M292.1,449.6h0M291.8,448.6h0M292.6,449.8h0M292.3,452.2h0M292.5,451.2h0M293.5,449.0h0M293.1,451.3h0M293.4,450.5h0M293.8,451.3h0M294.1,453.9h0M294.1,451.5h0M295.1,451.5h0M294.6,454.8h0M294.9,455.1h0M295.3,453.8h0M295.4,455.9h0M295.7,454.3h0M295.6,453.6h0M296.5,452.3h0M296.5,456.8h0M296.1,456.1h0M296.1,455.7h0M297.0,453.6h0M297.1,458.0h0M297.0,457.7h0M297.2,456.2h0M297.6,453.9h0M297.8,457.9h0M297.7,454.7h0M297.9,457.0h0M298.4,454.9h0M298.6,459.3h0M298.4,458.8h0M298.7,455.5h0M299.5,455.1h0M299.2,460.6h0M299.3,459.7h0M299.2,458.5h0M300.1,454.3h0M300.3,460.4h0M299.9,460.3h0M300.0,459.7h0M301.0,456.7h0M301.1,459.4h0M300.7,455.9h0M300.6,461.0h0M301.3,457.2h0M301.7,461.2h0M301.4,457.3h0M301.6,457.0h0M302.2,458.7h0M302.5,461.6h0M302.5,457.4h0M302.2,460.5h0M303.2,459.3h0M302.9,460.9h0M303.0,458.4h0M303.5,459.8h0M304.0,461.2h0M304.3,459.1h0M304.5,461.3h0M305.1,459.8h0M305.4,462.0h0M306.1,460.9h0M306.0,461.2h0M307.1,460.4h0M307.1,461.5h0M307.8,461.0h0M307.4,462.7h0M308.2,461.6h0M308.3,462.2h0M309.0,460.8h0M308.8,462.9h0M309.9,461.2h0M309.8,463.7h0M310.7,463.5h0M310.7,463.4h0M311.2,461.8h0M311.6,462.7h0M312.0,461.7h0M311.8,463.2h0M313.1,463.6h0M313.1,463.9h0M313.4,462.1h0M313.4,464.6h0M314.1,464.0h0M314.5,463.3h0M315.3,464.2h0M314.9,464.1h0M315.9,462.6h0M316.1,464.9h0M316.3,462.9h0M316.6,465.9h0M317.4,463.0h0M317.4,463.9h0M318.2,461.0h0M318.0,462.5h0M318.8,460.5h0M318.7,463.6h0M319.6,460.2h0M319.6,462.3h0M320.2,460.7h0M320.4,461.9h0M321.1,458.7h0M320.8,460.6h0M322.1,457.5h0M321.8,460.1h0M322.7,455.6h0M322.7,458.7h0M322.5,457.9h0M322.7,459.0h0M323.5,452.5h0M323.5,458.2h0M323.4,452.4h0M323.2,453.3h0M323.1,454.1h0M324.2,447.2h0M323.8,457.8h0M324.0,457.9h0M324.1,452.3h0M324.0,455.9h0M324.2,449.3h0M324.1,451.5h0M324.8,444.3h0M324.7,456.2h0M324.8,444.2h0M324.7,451.5h0M324.6,446.3h0M324.9,447.6h0M324.7,447.2h0M324.9,445.2h0M325.6,443.3h0M325.5,456.3h0M325.7,451.0h0M325.5,443.3h0M325.5,447.7h0M325.6,446.7h0M325.5,451.4h0M325.7,447.5h0M326.2,441.0h0M326.1,455.6h0M326.5,451.4h0M326.2,450.8h0M326.2,443.2h0M326.4,447.2h0M326.3,448.7h0M326.5,452.0h0M326.8,441.5h0M327.0,454.1h0M327.2,446.9h0M327.0,452.6h0M327.0,447.9h0M327.1,451.8h0M327.1,450.8h0M327.7,443.6h0M327.8,452.1h0M327.9,450.3h0M327.6,444.4h0M327.6,450.8h0M327.6,443.0h0M327.9,448.1h0M328.3,442.0h0M328.5,452.3h0M328.4,448.6h0M328.5,447.6h0M328.7,449.8h0M328.7,443.6h0M329.2,442.6h0M329.6,449.9h0M329.2,444.4h0M329.2,444.4h0M329.4,446.7h0M330.1,442.5h0M329.9,448.6h0M330.2,447.7h0M330.2,444.1h0M329.9,442.8h0M330.8,441.8h0M330.8,447.5h0M330.8,444.4h0M330.9,443.4h0M331.0,445.6h0M331.3,441.6h0M331.5,446.8h0M331.6,443.7h0M331.5,446.7h0M331.5,446.2h0M332.5,440.9h0M332.6,447.7h0M332.3,446.7h0M332.1,444.0h0M332.4,441.6h0M333.3,442.3h0M332.9,446.2h0M333.2,444.4h0M333.2,444.0h0M333.1,445.1h0M333.7,441.9h0M333.6,445.2h0M334.0,442.4h0M333.6,441.7h0M334.7,442.5h0M334.6,447.0h0M334.5,446.5h0M334.6,442.2h0M335.0,442.0h0M335.5,447.0h0M335.2,443.0h0M335.3,443.4h0M336.1,443.7h0M335.9,445.4h0M336.2,443.1h0M336.2,447.1h0M336.7,444.0h0M336.9,446.9h0M336.7,445.3h0M336.6,445.0h0M337.7,442.8h0M337.3,446.6h0M337.7,444.1h0M338.6,446.2h0M338.3,447.2h0M338.2,445.2h0M339.2,442.4h0M338.8,447.0h0M339.0,446.9h0M339.9,443.9h0M339.6,447.0h0M339.7,446.9h0M340.8,444.5h0M340.3,445.0h0M340.6,447.0h0M341.2,445.5h0M341.0,447.1h0M341.9,444.2h0M342.2,446.5h0M342.6,445.3h0M342.5,447.4h0M343.6,446.4h0M343.7,446.1h0M344.4,445.5h0M344.3,446.8h0M344.8,445.3h0M345.1,447.4h0M345.7,444.6h0M345.6,446.5h0M346.4,446.0h0M346.8,447.8h0M347.5,444.9h0M347.1,448.0h0M347.5,445.4h0M348.0,445.1h0M348.0,448.9h0M347.9,447.3h0M348.8,445.2h0M348.7,449.1h0M348.7,445.9h0M348.7,449.2h0M349.6,445.8h0M349.8,450.4h0M349.5,449.5h0M349.6,449.0h0M350.1,446.2h0M350.2,451.3h0M350.1,448.0h0M350.3,447.4h0M351.3,448.3h0M350.9,450.5h0M351.1,450.4h0M351.1,447.3h0M351.6,446.6h0M351.5,452.7h0M351.8,450.6h0M352.7,448.8h0M352.5,450.3h0M353.6,452.1h0M353.2,451.5h0M354.0,450.6h0M354.2,451.1h0M354.9,450.4h0M354.6,450.5h0M355.4,450.0h0M355.8,450.2h0M356.6,450.0h0M356.3,451.8h0M357.2,450.7h0M357.1,452.1h0M357.6,448.4h0M358.0,453.0h0M357.6,451.4h0M358.5,450.4h0M358.7,450.6h0M358.6,449.5h0M359.5,451.2h0M359.4,453.6h0M359.4,452.4h0M360.1,449.0h0M360.2,452.8h0M360.2,451.1h0M361.1,449.2h0M360.6,454.3h0M361.0,453.5h0M361.4,452.1h0M361.4,454.9h0M361.5,452.3h0M362.3,453.6h0M362.4,455.6h0M363.0,453.6h0M363.2,456.8h0M364.1,454.5h0M363.6,456.6h0M364.6,455.2h0M364.6,457.0h0M365.5,455.5h0M365.3,457.0h0M365.8,457.1h0M366.0,456.5h0M366.9,455.8h0M366.6,457.7h0M367.5,457.6h0M367.4,459.3h0M368.1,457.2h0M368.3,457.6h0M369.1,457.8h0M369.2,459.4h0M369.5,458.1h0M369.7,459.8h0M370.8,457.8h0M370.8,459.1h0M371.4,458.8h0M371.3,460.1h0M372.3,455.5h0M371.9,459.5h0M373.0,458.2h0M372.5,458.3h0M373.4,458.3h0M373.7,459.2h0M374.2,457.0h0M374.3,458.4h0M375.3,456.2h0M375.3,458.6h0M376.0,456.5h0M375.9,458.7h0M376.5,457.2h0M376.6,458.5h0M377.4,455.4h0M377.4,457.5h0M378.3,454.8h0M378.3,458.0h0M377.9,457.8h0M378.9,454.3h0M379.0,458.2h0M379.0,457.3h0M379.7,455.3h0M379.3,457.6h0M379.7,457.7h0M380.1,453.2h0M380.0,458.1h0M380.3,456.8h0M380.4,454.9h0M381.2,453.3h0M381.0,456.1h0M381.2,455.9h0M381.2,456.0h0M381.7,454.3h0M381.9,456.8h0M381.7,453.4h0M381.8,456.1h0M382.7,452.3h0M382.6,455.7h0M382.7,452.9h0M382.6,453.0h0M383.2,452.9h0M383.2,455.3h0M383.5,455.7h0M383.9,451.4h0M383.9,453.2h0M384.0,453.3h0M384.6,451.9h0M384.7,453.7h0M385.0,452.5h0M385.4,452.6h0M385.8,454.5h0M386.4,451.9h0M386.1,454.4h0M387.2,450.6h0M387.2,453.5h0M388.0,451.4h0M388.1,453.0h0M388.6,451.2h0M388.4,452.6h0M389.5,452.8h0M389.3,453.3h0M390.0,451.9h0M389.9,454.0h0M389.9,452.7h0M391.0,451.2h0M391.0,455.0h0M390.6,452.3h0M391.6,452.9h0M391.7,455.0h0M391.7,452.9h0M392.6,452.0h0M392.2,456.0h0M392.4,453.1h0M392.9,453.0h0M393.1,456.4h0M393.1,455.6h0M392.9,453.4h0M393.5,452.3h0M394.0,455.5h0M393.9,454.8h0M394.5,453.3h0M394.8,456.5h0M394.7,456.1h0M395.1,453.9h0M395.3,457.7h0M396.3,456.4h0M396.2,457.5h0M396.9,455.9h0M396.9,457.3h0M397.7,455.3h0M397.3,457.7h0M398.4,456.3h0M398.1,458.1h0M398.9,457.3h0M399.3,457.0h0M400.0,455.5h0M399.5,456.5h0M400.8,456.2h0M400.6,457.1h0M401.1,456.2h0M401.3,456.7h0M402.1,456.4h0M402.2,456.9h0M402.6,456.5h0M402.7,455.5h0M403.4,455.8h0M403.7,456.7h0M404.1,457.1h0M404.3,457.6h0M404.8,456.3h0M405.1,456.4h0M405.8,457.6h0M405.9,456.2h0M406.6,456.0h0M406.6,456.4h0M407.1,458.8h0M407.5,459.3h0M408.3,456.2h0M407.8,455.7h0M408.8,458.1h0M408.9,457.3h0M409.7,457.1h0M409.4,458.0h0M410.2,457.9h0M410.4,458.0h0M411.1,457.8h0M411.2,458.5h0M411.6,458.2h0M411.9,457.8h0M412.8,458.3h0M412.8,460.9h0M413.4,458.2h0M413.1,459.3h0M413.8,459.1h0M414.1,460.1h0M414.7,458.0h0M414.9,458.8h0M415.8,458.1h0M415.4,459.0h0M416.2,459.2h0M416.3,460.1h0M416.8,458.2h0M417.2,458.9h0M417.8,459.5h0M418.0,459.3h0M418.5,457.8h0M418.3,459.6h0M419.3,456.9h0M419.2,459.2h0M419.8,458.3h0M420.3,459.9h0M421.1,455.7h0M420.7,458.4h0M421.7,456.7h0M421.3,459.0h0M422.1,455.5h0M422.0,458.8h0M423.2,456.0h0M422.8,458.9h0M424.0,455.1h0M423.7,457.9h0M423.8,457.7h0M424.5,454.6h0M424.4,457.8h0M424.7,455.8h0M425.1,454.1h0M425.1,457.1h0M425.3,455.9h0M426.1,453.7h0M425.8,457.2h0M426.1,453.8h0M426.8,452.4h0M426.9,455.2h0M426.7,455.1h0M427.7,452.3h0M427.8,455.3h0M427.6,452.6h0M428.1,452.6h0M428.2,454.9h0M428.4,454.5h0M429.1,451.2h0M428.8,454.6h0M429.2,453.9h0M429.5,451.0h0M430.1,453.7h0M429.7,452.8h0M430.8,448.9h0M430.4,454.9h0M430.4,449.9h0M430.7,450.2h0M431.6,449.7h0M431.5,453.8h0M431.2,451.6h0M431.1,452.7h0M432.3,449.6h0M432.3,453.1h0M432.1,452.6h0M432.1,451.8h0M432.9,449.4h0M432.5,453.1h0M432.8,450.2h0M432.8,449.1h0M433.7,451.1h0M433.7,452.7h0M433.5,449.8h0M434.4,450.4h0M434.1,452.3h0M434.5,451.8h0M435.0,451.7h0M435.3,452.7h0M435.2,450.7h0M435.7,450.7h0M435.6,452.4h0M435.8,453.9h0M436.7,451.7h0M436.3,453.8h0M436.6,452.9h0M437.3,450.8h0M437.4,453.8h0M437.4,454.1h0M438.2,452.3h0M438.3,455.9h0M438.1,451.6h0M438.9,452.5h0M439.0,455.1h0M438.7,454.5h0M439.5,452.0h0M439.4,455.2h0M439.5,452.9h0M440.1,450.2h0M440.4,454.0h0M440.5,454.3h0M441.3,453.6h0M440.9,454.9h0M440.9,453.3h0M441.5,452.5h0M442.1,453.2h0M441.7,454.5h0M442.7,453.4h0M442.6,455.9h0M442.4,454.7h0M443.2,451.7h0M443.3,455.6h0M443.5,452.5h0M444.1,451.7h0M444.3,455.9h0M444.0,455.1h0M444.9,452.6h0M444.6,455.3h0M444.7,455.2h0M445.3,452.2h0M445.8,454.0h0M445.4,453.6h0M446.4,451.8h0M446.5,456.6h0M446.2,452.9h0M446.8,452.1h0M446.9,455.9h0M447.2,454.4h0M447.9,451.7h0M447.9,456.4h0M447.7,452.2h0M448.3,453.0h0M448.3,455.5h0M448.4,453.9h0M449.6,452.0h0M449.5,456.2h0M449.2,452.4h0M449.9,451.2h0M450.0,455.0h0M450.1,452.3h0M450.2,453.3h0M451.0,453.5h0M450.6,455.2h0M450.9,455.0h0M450.9,452.8h0M451.3,452.4h0M451.3,453.6h0M451.6,453.8h0M451.6,452.2h0M452.1,453.4h0M452.2,453.6h0M452.4,453.5h0M452.2,451.5h0M452.8,451.5h0M453.3,455.0h0M453.0,453.9h0M452.9,454.1h0M453.7,450.4h0M453.6,453.5h0M453.7,453.7h0M454.4,449.8h0M454.4,452.8h0M454.4,451.2h0M455.2,449.8h0M455.3,452.3h0M455.4,450.4h0M456.1,450.6h0M455.8,453.2h0M456.0,450.3h0M456.8,449.9h0M456.6,452.8h0M456.8,450.2h0M457.4,449.3h0M457.3,452.0h0M457.5,450.8h0M458.6,449.1h0M458.1,452.0h0M458.4,450.8h0M459.3,450.7h0M458.8,451.9h0M459.2,450.4h0M459.6,449.6h0M459.6,449.9h0M459.6,449.4h0M460.8,447.1h0M460.3,450.6h0M460.5,449.0h0M461.1,447.3h0M461.1,451.2h0M461.5,449.1h0M461.9,448.2h0M462.1,450.1h0M461.9,448.5h0M462.9,445.9h0M462.8,450.0h0M462.8,448.7h0M463.3,445.3h0M463.7,450.7h0M463.7,446.1h0M463.7,445.2h0M464.1,441.0h0M464.0,448.8h0M464.2,442.3h0M464.3,442.9h0M464.9,440.0h0M465.3,447.7h0M465.0,444.6h0M464.9,446.5h0M464.9,443.2h0M465.8,437.4h0M466.1,445.4h0M465.8,438.2h0M465.9,438.1h0M466.0,440.4h0M465.7,445.1h0M466.4,432.5h0M466.7,443.2h0M466.4,436.9h0M466.4,442.0h0M466.4,439.5h0M466.5,437.8h0M466.6,440.7h0M467.1,430.1h0M467.6,441.7h0M467.2,431.5h0M467.3,437.1h0M467.5,430.5h0M467.2,431.9h0M467.3,435.5h0M467.3,441.0h0M468.1,428.4h0M467.9,442.2h0M468.2,432.5h0M467.9,439.7h0M467.9,427.0h0M468.0,430.9h0M468.2,439.1h0M468.0,434.3h0M468.2,438.2h0M468.9,423.7h0M468.6,439.2h0M468.9,432.9h0M468.9,437.8h0M469.0,426.8h0M468.6,437.8h0M468.8,426.6h0M468.9,427.8h0M468.7,429.5h0M469.6,421.2h0M469.7,438.5h0M469.6,429.3h0M469.6,435.0h0M469.4,429.3h0M469.6,433.4h0M469.6,424.2h0M469.7,434.7h0M469.4,428.6h0M469.7,424.7h0M470.2,420.4h0M470.1,437.8h0M470.4,425.4h0M470.4,433.2h0M470.2,422.7h0M470.2,423.6h0M470.1,421.1h0M470.3,426.5h0M470.1,429.7h0M470.5,429.6h0M470.2,432.0h0M471.0,416.7h0M470.8,435.8h0M471.1,419.3h0M471.0,436.2h0M471.2,433.5h0M471.1,429.3h0M471.1,436.2h0M470.9,432.0h0M471.0,421.3h0M471.2,428.6h0M471.2,434.3h0M471.1,420.1h0M471.5,414.8h0M471.7,435.9h0M471.6,415.8h0M471.7,429.8h0M471.6,420.4h0M471.7,430.1h0M472.0,416.1h0M471.6,434.6h0M472.0,418.7h0M471.7,426.3h0M471.7,424.2h0M471.8,420.9h0M472.3,416.2h0M472.3,434.4h0M472.6,429.1h0M472.5,430.9h0M472.6,422.2h0M472.5,419.2h0M472.7,426.4h0M472.4,418.5h0M472.6,423.0h0M472.6,420.0h0M472.7,431.1h0M473.1,416.1h0M473.4,434.5h0M473.4,430.7h0M473.2,418.0h0M473.4,426.6h0M473.2,419.8h0M473.3,418.2h0M473.4,420.7h0M473.2,424.0h0M473.3,429.5h0M473.1,429.5h0M473.9,417.0h0M474.2,432.6h0M474.1,432.3h0M473.9,422.3h0M474.1,421.5h0M473.9,420.9h0M474.2,431.1h0M474.1,433.3h0M474.2,422.3h0M474.0,429.3h0M474.5,417.9h0M474.5,433.7h0M474.8,420.3h0M475.0,431.8h0M474.8,421.0h0M474.6,425.9h0M474.8,423.7h0M474.9,426.3h0M474.9,419.6h0M475.3,418.4h0M475.4,432.6h0M475.6,422.1h0M475.5,425.8h0M475.6,430.1h0M475.5,425.4h0M475.7,432.5h0M475.6,420.3h0M475.5,428.2h0M476.2,422.2h0M476.5,432.4h0M476.2,426.0h0M476.3,423.7h0M476.1,429.9h0M476.4,425.6h0M476.1,425.0h0M476.1,432.8h0M476.8,420.5h0M476.8,431.4h0M476.9,421.4h0M476.9,427.1h0M477.2,422.6h0M476.9,430.1h0M477.0,424.7h0M476.9,423.5h0M478.1,421.5h0M477.9,431.9h0M478.0,431.5h0M477.8,432.1h0M477.8,424.2h0M477.8,429.2h0M477.9,422.3h0M478.4,421.7h0M478.7,432.0h0M478.5,423.8h0M478.5,426.3h0M478.7,422.7h0M478.7,424.6h0M478.4,429.4h0M479.2,421.9h0M479.5,430.8h0M479.4,427.4h0M479.1,429.4h0M479.3,430.8h0M479.5,424.7h0M479.4,429.9h0M479.9,421.3h0M480.0,430.6h0M480.0,422.6h0M479.9,430.6h0M480.0,427.9h0M480.2,429.1h0M479.9,430.7h0M481.0,423.5h0M481.0,431.2h0M480.9,424.3h0M480.9,425.5h0M480.9,423.2h0M480.8,425.1h0M481.7,421.7h0M481.8,429.7h0M481.7,423.5h0M481.7,429.0h0M481.6,428.1h0M481.4,430.1h0M482.3,422.2h0M482.5,430.6h0M482.4,430.0h0M482.2,425.5h0M482.2,423.5h0M482.2,422.9h0M483.2,423.3h0M482.8,430.4h0M483.1,424.6h0M483.0,426.2h0M483.2,430.7h0M483.0,428.1h0M484.0,421.6h0M483.9,430.5h0M483.7,430.1h0M483.8,423.8h0M483.8,429.8h0M483.8,426.9h0M484.5,424.1h0M484.4,431.8h0M484.5,426.0h0M484.7,428.8h0M484.4,430.6h0M484.4,427.9h0M485.3,423.1h0M485.1,431.9h0M485.3,429.9h0M485.4,426.0h0M485.2,429.3h0M485.4,424.8h0M486.3,424.2h0M486.0,431.3h0M486.1,431.0h0M485.9,425.6h0M486.0,429.3h0M485.9,427.7h0M486.8,423.9h0M487.1,432.4h0M487.0,428.6h0M486.9,425.3h0M487.0,428.5h0M486.9,431.2h0M487.5,425.3h0M487.3,433.0h0M487.6,432.2h0M487.7,432.7h0M487.6,432.5h0M487.6,425.8h0M488.4,425.5h0M488.4,434.1h0M488.2,427.3h0M488.3,429.4h0M488.3,425.7h0M488.1,427.9h0M489.2,425.0h0M488.9,434.1h0M489.1,426.3h0M489.1,432.9h0M488.9,430.0h0M489.1,431.5h0M489.9,424.7h0M490.0,434.3h0M490.0,425.0h0M490.0,428.7h0M489.6,425.2h0M489.9,430.9h0M490.3,423.5h0M490.8,433.2h0M490.5,431.6h0M490.4,426.2h0M490.4,428.2h0M490.6,427.2h0M491.1,424.5h0M491.1,432.7h0M491.2,428.8h0M491.2,428.6h0M491.3,433.1h0M491.3,432.9h0M492.0,424.6h0M491.8,431.6h0M491.9,424.6h0M492.1,432.6h0M492.0,427.1h0M492.0,427.1h0M492.9,423.5h0M493.0,431.2h0M492.8,423.6h0M492.9,429.6h0M492.7,428.8h0M493.0,426.9h0M493.5,423.2h0M493.6,429.4h0M493.6,430.3h0M493.4,425.9h0M493.7,429.1h0M494.4,422.8h0M494.6,430.1h0M494.3,425.6h0M494.2,423.6h0M494.5,428.3h0M494.8,422.2h0M495.0,427.9h0M495.0,428.3h0M495.0,425.8h0M495.2,426.6h0M495.8,421.7h0M495.9,427.2h0M495.9,423.5h0M495.7,424.3h0M495.7,427.7h0M496.6,421.5h0M496.7,426.5h0M496.4,425.6h0M496.4,422.5h0M496.4,426.3h0M497.1,421.5h0M497.2,426.6h0M497.4,425.5h0M497.5,426.9h0M497.3,426.7h0M497.8,422.6h0M497.9,427.8h0M498.1,426.8h0M498.0,422.1h0M498.2,426.2h0M498.9,422.4h0M498.5,428.0h0M498.6,422.0h0M498.9,425.9h0M498.6,422.9h0M499.4,421.6h0M499.8,429.2h0M499.5,428.6h0M499.5,424.8h0M499.5,423.8h0M500.6,424.3h0M500.1,429.0h0M500.2,423.7h0M500.2,427.5h0M500.1,426.2h0M501.2,424.5h0M501.2,429.2h0M501.1,426.2h0M501.2,427.2h0M501.0,425.9h0M502.1,425.4h0M501.8,431.3h0M501.7,425.1h0M501.8,428.3h0M501.6,429.0h0M502.7,424.8h0M502.7,430.4h0M502.5,428.7h0M502.6,429.1h0M502.5,430.5h0M503.6,426.7h0M503.2,431.7h0M503.3,427.0h0M503.5,430.2h0M503.4,430.4h0M504.3,426.4h0M504.2,433.1h0M504.0,430.3h0M503.9,431.9h0M504.0,428.1h0M505.1,429.3h0M505.0,432.8h0M504.7,432.4h0M504.8,433.4h0M504.8,430.2h0M505.8,429.9h0M505.3,434.2h0M505.5,429.2h0M505.7,431.4h0M505.6,430.1h0M506.4,429.3h0M506.3,436.7h0M506.4,430.8h0M506.4,431.3h0M506.2,436.1h0M507.3,430.8h0M507.1,438.2h0M507.2,436.3h0M507.0,437.3h0M507.0,438.0h0M507.0,430.7h0M507.9,431.2h0M507.5,439.0h0M508.0,435.6h0M507.9,431.5h0M507.9,434.0h0M507.7,438.4h0M507.6,435.0h0M508.3,432.0h0M508.3,443.0h0M508.5,436.0h0M508.6,438.9h0M508.5,441.2h0M508.4,432.2h0M508.7,432.0h0M509.1,431.5h0M509.1,442.8h0M509.5,437.2h0M509.4,434.7h0M509.5,434.4h0M509.5,438.7h0M509.5,440.5h0M510.1,432.9h0M510.0,443.2h0M509.9,442.4h0M510.2,440.3h0M510.1,436.2h0M510.0,441.6h0M511.1,437.1h0M510.9,443.2h0M510.8,439.2h0M510.7,437.3h0M510.8,439.8h0M511.4,438.2h0M511.7,442.4h0M511.6,439.4h0M511.7,440.4h0M512.6,440.9h0M512.3,443.4h0M512.5,441.5h0M513.1,440.9h0M512.9,443.6h0M512.9,441.6h0M513.9,439.7h0M513.9,444.9h0M513.7,444.3h0M514.6,440.4h0M514.7,444.9h0M514.5,443.6h0M515.2,442.9h0M515.6,444.8h0M515.8,443.5h0M515.9,444.7h0M516.8,443.7h0M516.9,443.7h0M517.7,444.9h0M517.7,445.8h0M518.4,443.3h0M518.3,444.9h0M519.3,443.2h0M518.8,444.3h0M519.7,445.0h0M520.0,446.2h0M520.3,444.6h0M520.7,445.6h0M521.1,445.3h0M521.5,446.8h0M522.1,444.0h0M522.0,445.2h0M522.9,446.6h0M523.1,447.0h0M523.3,445.4h0M523.3,448.4h0M524.2,444.7h0M524.6,449.6h0M525.3,445.1h0M524.8,448.9h0M525.9,445.5h0M526.0,448.4h0M526.4,446.6h0M526.3,447.9h0M527.4,446.4h0M527.3,448.8h0M528.1,445.5h0M528.1,448.8h0M528.5,447.1h0M528.6,448.3h0M529.7,446.4h0M529.4,447.2h0M530.1,445.6h0M530.2,448.6h0M530.4,446.7h0M531.2,447.0h0M531.1,449.6h0M532.1,446.3h0M531.5,449.3h0M532.3,446.7h0M532.6,448.7h0M533.3,446.8h0M533.6,448.2h0M533.9,447.7h0M533.9,448.7h0M535.0,447.2h0M534.6,450.1h0M535.3,448.8h0M535.6,448.3h0M536.1,447.7h0M536.3,449.7h0M537.0,449.1h0M537.2,448.8h0M537.8,448.8h0M537.8,448.7h0M538.6,450.0h0M538.3,448.9h0M539.1,448.5h0M539.1,449.7h0M540.2,450.0h0M539.9,450.3h0M540.9,449.8h0M540.9,449.6h0M541.5,450.2h0M541.6,450.4h0M542.6,450.7h0M542.3,451.0h0M543.0,451.0h0M543.0,449.9h0M544.0,450.2h0M544.0,449.4h0M544.5,451.5h0M544.3,450.6h0M545.4,450.8h0M545.6,452.5h0M545.8,451.0h0M545.8,453.1h0M546.7,452.3h0M546.9,451.6h0M547.5,451.0h0M547.7,452.8h0M548.2,452.1h0M548.0,452.4h0M548.8,451.0h0M549.1,454.1h0M549.6,452.2h0M549.6,453.6h0M550.5,451.3h0M550.3,452.8h0M551.2,453.3h0M551.2,454.6h0M552.3,451.8h0M552.1,454.3h0M553.1,450.4h0M552.8,454.2h0M553.4,450.7h0M553.5,452.8h0M554.2,450.6h0M554.1,452.8h0M554.9,450.9h0M555.0,452.8h0M555.9,452.6h0M555.7,452.1h0M556.7,452.2h0M556.6,454.7h0M557.1,453.8h0M557.2,454.1h0M557.9,452.3h0M558.2,453.2h0M558.8,453.6h0M558.8,454.8h0M559.5,453.8h0M559.7,453.8h0M560.4,454.4h0M560.5,454.2h0M561.1,453.8h0M561.2,455.7h0M561.7,455.0h0M561.5,454.4h0M562.8,453.1h0M562.8,454.9h0M563.5,454.4h0M563.1,454.0h0M564.2,454.2h0M564.0,455.6h0M564.7,453.0h0M565.0,454.6h0M565.8,454.9h0M565.5,455.5h0M566.2,454.8h0M566.1,455.1h0M566.9,455.7h0M566.9,455.9h0M568.0,454.9h0M567.6,455.8h0M568.7,454.0h0M568.8,455.1h0M569.3,453.4h0M569.2,454.9h0M569.8,453.7h0M569.8,455.3h0M570.7,454.9h0M570.9,457.2h0M571.6,455.4h0M571.7,457.1h0M572.4,455.7h0M572.5,457.5h0M573.3,456.4h0M573.1,457.7h0M573.0,456.1h0M573.7,456.1h0M573.8,459.7h0M574.3,457.5h0M574.5,458.3h0M575.2,458.1h0M575.6,459.3h0M575.9,458.6h0M576.1,459.7h0M576.7,459.5h0M577.0,458.8h0M577.4,458.0h0M577.8,459.9h0M578.0,457.3h0M578.4,458.5h0M579.2,458.1h0M579.0,459.7h0M580.0,457.8h0M580.0,458.4h0M580.5,457.7h0M580.5,458.8h0M581.1,457.9h0M581.1,459.0h0M582.0,456.8h0M581.9,458.7h0M582.9,455.6h0M582.6,459.5h0M583.6,457.2h0M583.8,459.4h0M584.1,458.7h0M584.2,460.1h0M585.1,457.7h0M584.8,460.0h0M586.1,458.2h0M585.9,459.5h0M586.6,458.3h0M586.8,459.2h0M587.2,457.0h0M587.2,459.0h0M588.0,459.5h0M588.1,459.0h0M588.8,458.6h0M589.0,459.8h0M589.5,459.6h0M589.7,460.9h0M590.0,459.6h0M590.4,458.2h0M591.2,458.3h0M590.9,460.1h0M591.6,458.3h0M591.7,461.0h0M592.6,459.7h0M592.4,459.1h0M593.3,458.6h0M593.1,459.0h0M594.0,458.6h0M593.9,460.1h0M594.9,457.7h0M595.0,460.1h0M595.6,458.7h0M595.7,458.8h0M596.3,458.1h0M596.3,460.2h0M597.3,458.3h0M596.8,460.4h0M597.9,459.2h0M598.1,458.8h0M598.7,456.8h0M598.4,457.5h0M599.5,456.5h0M599.5,458.9h0M600.0,456.8h0M600.1,459.7h0M600.2,456.5h0M601.0,455.1h0M600.7,457.8h0M600.6,455.2h0M601.6,454.6h0M601.4,456.8h0M601.5,457.2h0M602.5,454.9h0M602.3,458.2h0M602.4,454.0h0M603.3,452.8h0M602.9,456.9h0M602.9,455.7h0M603.1,454.4h0M604.0,452.9h0M603.8,454.2h0M603.9,453.5h0M604.4,452.6h0M604.7,454.9h0M604.7,452.5h0M605.4,451.4h0M605.1,453.8h0M606.3,451.1h0M606.1,453.0h0M606.5,450.9h0M607.0,454.8h0M606.7,451.2h0M607.5,449.8h0M607.5,454.4h0M607.6,450.3h0M608.6,448.2h0M608.5,452.8h0M608.2,452.0h0M608.2,452.4h0M608.8,448.1h0M609.0,451.6h0M609.0,450.9h0M608.9,450.2h0M609.5,448.2h0M610.0,452.8h0M609.8,450.6h0M609.9,448.3h0M610.7,447.3h0M610.7,450.1h0M610.6,451.2h0M610.5,450.5h0M611.6,447.7h0M611.2,450.8h0M611.3,447.9h0M611.2,450.9h0M612.0,447.6h0M612.1,450.3h0M611.9,448.9h0M612.1,448.8h0M612.8,447.5h0M613.1,450.8h0M612.7,447.3h0M613.7,446.6h0M613.4,451.1h0M613.7,448.4h0M614.4,447.8h0M614.4,449.7h0M614.2,449.1h0M614.8,447.1h0M614.8,451.7h0M615.1,450.1h0M615.6,449.3h0M615.5,452.4h0M615.7,448.4h0M616.4,449.9h0M616.4,450.8h0M617.2,448.9h0M617.5,451.3h0M618.2,450.7h0M617.8,451.4h0M618.7,451.4h0M619.0,451.2h0M619.8,450.7h0M619.7,452.1h0M620.2,451.6h0M620.2,452.9h0M620.8,452.0h0M621.0,453.2h0M621.8,451.4h0M621.8,454.6h0M622.4,450.0h0M622.5,452.4h0M623.4,450.8h0M623.3,453.7h0M623.9,450.3h0M623.8,454.0h0M624.7,453.6h0M624.5,455.1h0M625.6,451.1h0M625.5,454.8h0M626.1,451.9h0M626.4,452.6h0M626.9,451.7h0M627.1,454.8h0M627.5,451.8h0M627.9,453.7h0M628.5,453.4h0M628.4,453.2h0M629.5,452.3h0M629.5,453.2h0M629.8,452.7h0M630.3,454.5h0M630.5,452.4h0M630.6,454.8h0M631.5,451.4h0M631.3,453.8h0M632.3,451.3h0M632.2,451.7h0M633.0,451.9h0M632.9,451.4h0M633.9,451.8h0M634.0,454.0h0M634.4,450.5h0M634.5,452.8h0M634.7,450.7h0M635.3,449.2h0M635.1,453.2h0M635.3,450.5h0M635.5,452.5h0M635.9,447.1h0M635.8,452.5h0M636.0,452.1h0M636.0,450.5h0M636.9,448.3h0M636.6,451.1h0M636.7,450.5h0M636.6,448.5h0M637.3,444.5h0M637.3,451.4h0M637.4,444.9h0M637.4,445.8h0M637.6,445.3h0M638.5,441.9h0M638.1,450.8h0M638.4,442.5h0M638.4,443.0h0M638.5,445.9h0M638.3,450.1h0M638.8,441.4h0M639.1,450.2h0M639.1,443.0h0M639.0,442.0h0M639.0,443.1h0M639.1,443.3h0M639.0,447.0h0M639.6,440.4h0M639.6,450.8h0M639.6,445.1h0M639.8,447.3h0M639.7,444.1h0M640.0,442.6h0M640.0,449.1h0M640.8,440.5h0M640.7,449.4h0M640.6,441.6h0M640.7,446.0h0M640.7,445.1h0M640.4,448.1h0M641.1,440.1h0M641.1,447.3h0M641.3,446.2h0M641.1,445.7h0M641.1,444.1h0M641.4,445.9h0M641.8,441.8h0M642.0,445.8h0M642.0,443.5h0M642.1,446.1h0M642.1,443.7h0M642.8,441.5h0M643.1,447.0h0M643.0,446.0h0M643.0,444.3h0M643.8,442.9h0M643.7,446.0h0M643.7,446.7h0M643.7,443.9h0M644.5,442.9h0M644.2,447.9h0M644.4,447.5h0M644.4,446.7h0M644.9,444.9h0M644.9,447.9h0M645.0,444.5h0M644.9,447.6h0M645.6,445.2h0M646.0,449.6h0M645.7,445.8h0M645.8,444.6h0M646.5,445.2h0M646.8,449.1h0M646.5,445.0h0M646.7,446.0h0M647.2,446.2h0M647.4,449.4h0M647.3,447.7h0M647.2,446.7h0M648.3,444.6h0M648.3,448.0h0M647.9,449.4h0M647.9,448.9h0M649.0,445.9h0M649.0,450.7h0M648.7,448.2h0M648.7,447.6h0M649.4,446.0h0M649.7,450.7h0M649.6,448.4h0M649.7,449.3h0M650.3,445.4h0M650.2,447.9h0M650.1,447.2h0M651.2,447.1h0M651.1,449.7h0M651.2,448.7h0M651.8,444.5h0M651.7,448.5h0M651.6,447.8h0M652.7,445.7h0M652.8,447.2h0M652.4,445.8h0M653.3,444.5h0M653.6,446.4h0M653.3,447.7h0M654.1,446.2h0M653.9,445.8h0M653.9,446.3h0M654.5,443.1h0M655.1,447.2h0M654.8,447.0h0M654.9,445.9h0M655.4,442.3h0M655.5,446.1h0M655.6,444.8h0M655.5,445.3h0M656.6,441.5h0M656.0,445.9h0M656.1,441.3h0M656.3,445.9h0M657.2,441.4h0M657.1,446.5h0M657.1,439.7h0M657.0,441.4h0M657.1,440.1h0M657.8,438.0h0M657.7,445.2h0M657.6,444.0h0M657.9,443.0h0M657.6,443.0h0M658.8,437.7h0M658.3,445.3h0M658.7,442.3h0M658.5,444.7h0M658.7,444.5h0M658.4,441.5h0M659.2,433.3h0M659.4,443.1h0M659.2,439.6h0M659.5,439.8h0M659.5,439.8h0M659.5,433.8h0M659.3,439.7h0M660.2,432.3h0M660.0,443.8h0M660.1,437.8h0M660.1,443.2h0M659.9,435.1h0M660.2,431.7h0M660.2,431.3h0M660.1,441.3h0M660.6,430.1h0M660.9,440.9h0M660.8,437.1h0M660.7,436.9h0M661.0,439.1h0M661.0,433.0h0M660.8,434.6h0M661.5,429.9h0M661.6,439.5h0M661.7,438.7h0M661.4,432.1h0M661.5,438.7h0M661.4,437.8h0M662.2,427.2h0M662.0,437.4h0M662.2,430.0h0M662.2,431.2h0M662.4,433.6h0M662.1,435.4h0M663.1,429.2h0M663.2,433.6h0M662.9,434.6h0M663.2,429.6h0M662.9,434.1h0M664.0,429.4h0M664.0,434.2h0M663.9,434.1h0M664.0,430.4h0M663.9,434.7h0M664.4,427.8h0M664.8,436.3h0M664.6,430.1h0M664.5,432.1h0M664.4,434.5h0M665.5,428.3h0M665.4,434.3h0M665.1,434.1h0M665.4,430.4h0M665.1,430.2h0M666.2,426.8h0M665.8,435.4h0M665.9,430.7h0M666.2,429.2h0M665.9,434.0h0M665.9,433.3h0M666.6,427.2h0M667.0,434.5h0M666.8,431.0h0M666.6,430.0h0M666.7,434.1h0M666.9,434.1h0M667.6,426.1h0M667.5,436.1h0M667.5,428.8h0M667.6,428.1h0M667.5,428.8h0M667.7,432.4h0M667.5,429.8h0M668.6,426.0h0M668.3,436.0h0M668.4,427.8h0M668.2,426.1h0M668.3,433.4h0M668.2,429.7h0M668.5,430.3h0M669.0,425.1h0M669.0,437.1h0M668.9,431.6h0M669.1,435.1h0M669.1,427.7h0M669.1,427.4h0M669.0,429.6h0M669.2,434.9h0M670.1,421.6h0M669.6,435.1h0M670.0,431.3h0M669.9,428.4h0M670.0,423.6h0M669.9,433.5h0M669.7,433.6h0M669.7,432.6h0M670.5,422.6h0M670.7,434.8h0M670.6,423.9h0M670.7,425.5h0M670.5,428.0h0M670.6,434.0h0M670.7,430.8h0M670.5,424.1h0M671.0,421.4h0M671.3,434.9h0M671.5,427.5h0M671.2,427.6h0M671.2,434.3h0M671.3,429.2h0M671.3,425.4h0M671.2,428.5h0M672.0,423.6h0M671.9,434.9h0M671.9,424.3h0M672.0,432.3h0M672.2,425.3h0M672.2,427.9h0M672.1,429.1h0M671.9,423.1h0M672.9,422.7h0M673.1,435.6h0M672.9,426.5h0M672.6,429.6h0M672.9,425.5h0M672.6,428.8h0M672.6,431.9h0M672.9,426.2h0M673.5,423.5h0M673.4,434.5h0M673.7,428.7h0M673.6,427.4h0M673.7,430.4h0M673.6,427.9h0M673.6,425.5h0M673.7,431.3h0M674.3,423.6h0M674.2,435.4h0M674.2,433.6h0M674.1,428.8h0M674.4,432.8h0M674.4,427.1h0M674.2,431.9h0M674.9,424.2h0M675.2,436.0h0M675.1,433.4h0M675.2,428.4h0M675.2,424.1h0M675.2,424.3h0M675.1,428.5h0M676.0,424.3h0M676.0,434.9h0M675.8,432.9h0M675.8,424.7h0M675.9,426.7h0M675.8,424.3h0M675.7,431.8h0M676.7,424.2h0M676.7,436.1h0M676.6,426.8h0M676.6,431.2h0M676.6,426.7h0M676.5,428.4h0M676.4,428.4h0M677.4,424.6h0M677.4,435.8h0M677.1,433.1h0M677.2,425.8h0M677.2,430.5h0M677.2,434.6h0M677.5,427.9h0M678.2,425.0h0M677.9,436.7h0M678.2,435.5h0M677.9,428.6h0M678.0,427.2h0M678.0,434.9h0M677.9,434.2h0M678.7,427.5h0M678.7,435.6h0M678.7,426.7h0M678.7,426.8h0M678.7,428.1h0M678.8,430.2h0M678.7,431.0h0M679.7,426.2h0M679.8,436.4h0M679.7,431.6h0M679.5,429.3h0M679.4,434.9h0M679.6,427.0h0M679.7,434.9h0M680.0,426.6h0M680.3,436.3h0M680.4,429.8h0M680.3,432.8h0M680.2,432.5h0M680.3,435.9h0M680.9,427.3h0M680.9,436.0h0M680.9,428.4h0M681.1,428.6h0M681.2,427.9h0M681.1,434.8h0M681.6,428.4h0M681.8,434.5h0M682.0,430.6h0M681.8,435.8h0M681.7,435.9h0M682.0,429.5h0M682.6,429.2h0M682.8,436.1h0M682.7,434.3h0M682.6,429.3h0M682.7,429.3h0M683.5,429.5h0M683.4,436.8h0M683.3,434.6h0M683.1,435.9h0M683.3,435.0h0M684.0,430.6h0M684.1,436.9h0M683.9,433.2h0M683.9,435.7h0M684.1,432.8h0M685.1,432.7h0M684.5,437.8h0M684.9,435.6h0M684.8,430.6h0M685.0,433.6h0M685.6,431.6h0M685.3,438.6h0M685.7,433.0h0M685.4,432.0h0M685.7,436.4h0M686.1,432.8h0M686.4,437.5h0M686.3,432.5h0M686.3,438.8h0M686.1,434.7h0M686.8,432.8h0M687.3,439.8h0M687.2,437.9h0M686.9,437.6h0M687.0,436.0h0M687.6,432.4h0M687.6,440.6h0M688.0,436.6h0M687.7,435.3h0M687.8,438.3h0M688.6,436.1h0M688.6,441.9h0M688.7,436.5h0M688.4,437.2h0M688.5,435.9h0M689.3,438.6h0M689.3,441.6h0M689.5,440.6h0M689.4,440.9h0M689.9,438.3h0M690.1,443.3h0M690.1,442.0h0M689.9,439.8h0M691.0,440.1h0M690.6,445.9h0M690.7,439.6h0M690.9,442.8h0M691.6,440.5h0M691.6,445.7h0M691.7,443.3h0M691.6,443.0h0M692.3,441.4h0M692.1,446.8h0M692.3,443.2h0M692.3,443.9h0M693.0,441.6h0M693.0,446.2h0M693.2,442.5h0M692.9,445.6h0M693.7,441.5h0M693.7,446.6h0M693.7,442.3h0M693.9,447.0h0M694.4,442.1h0M694.3,447.1h0M694.7,446.7h0M694.4,443.8h0M695.4,443.3h0M695.2,448.3h0M695.2,446.8h0M695.4,447.1h0M695.8,441.4h0M696.2,449.0h0M696.0,443.7h0M695.9,446.7h0M696.5,443.9h0M696.8,448.9h0M697.0,447.8h0M696.8,443.7h0M697.6,443.1h0M697.8,447.6h0M697.6,444.0h0M697.4,445.0h0M698.3,443.5h0M698.5,447.2h0M698.2,447.0h0M698.2,448.0h0M699.3,443.5h0M698.8,447.1h0M699.0,446.6h0M699.1,445.3h0M699.5,445.0h0M699.6,447.5h0M699.7,446.8h0M700.0,446.3h0M700.4,443.7h0M700.7,448.6h0M700.4,445.2h0M700.5,448.2h0M701.1,444.4h0M701.1,448.0h0M701.2,445.8h0M701.4,445.9h0M702.0,443.2h0M702.3,447.6h0M702.0,448.4h0M702.0,448.7h0M702.8,444.0h0M702.7,449.3h0M702.7,448.3h0M702.7,447.4h0M703.5,443.7h0M703.4,448.8h0M703.5,447.4h0M703.6,444.0h0M704.4,444.1h0M704.2,448.4h0M704.2,448.0h0M704.3,445.6h0M704.9,444.5h0M705.0,447.4h0M705.2,447.5h0M705.9,445.8h0M705.6,448.3h0M705.6,445.1h0M706.4,443.7h0M706.6,447.3h0M707.3,445.3h0M707.5,444.4h0M708.0,447.1h0M707.9,445.7h0M709.0,445.5h0M708.7,445.3h0M709.8,444.3h0M709.4,445.5h0M710.5,445.2h0M710.4,445.7h0M710.9,443.4h0M711.3,444.9h0M711.5,442.4h0M711.6,445.3h0M712.5,442.9h0M712.3,444.7h0M713.4,441.3h0M713.1,444.9h0M714.3,441.7h0M713.9,443.4h0M714.1,442.4h0M714.8,441.3h0M714.8,445.7h0M714.6,443.8h0M715.3,441.6h0M715.6,443.8h0M715.7,441.9h0M716.2,442.8h0M716.1,445.5h0M716.4,444.2h0M717.0,443.0h0M716.9,443.8h0M716.9,442.5h0M717.7,443.6h0M717.8,444.7h0M718.6,442.6h0M718.3,444.9h0M719.2,446.0h0M719.6,446.9h0M720.2,443.9h0M720.1,447.2h0M720.6,445.5h0M721.0,448.2h0M720.7,446.7h0M721.6,446.8h0M721.7,449.6h0M721.7,450.0h0M721.5,446.2h0M722.5,445.8h0M722.2,452.8h0M722.2,451.3h0M722.3,451.1h0M722.2,447.9h0M723.1,446.4h0M723.0,455.4h0M723.1,449.3h0M723.2,452.2h0M723.1,449.0h0M723.7,449.2h0M723.7,455.7h0M723.6,449.3h0M724.0,448.1h0M723.9,451.7h0M724.6,449.1h0M724.6,456.0h0M724.4,455.6h0M724.4,450.5h0M724.6,453.8h0M725.5,451.0h0M725.0,458.5h0M725.1,452.7h0M725.4,452.2h0M726.1,453.4h0M726.1,458.2h0M726.2,456.8h0M726.0,455.4h0M726.7,455.0h0M726.9,458.1h0M726.7,456.8h0M726.8,457.1h0M727.5,454.9h0M727.5,458.5h0M727.6,457.2h0M727.6,457.9h0M728.0,455.4h0M728.3,458.5h0M728.4,454.7h0M729.0,454.5h0M729.0,459.2h0M729.2,456.8h0M729.5,455.4h0M729.8,457.5h0M729.7,455.7h0M730.5,456.8h0M730.8,456.8h0M731.3,454.6h0M731.4,457.2h0M732.0,457.3h0M732.2,457.6h0M733.0,455.6h0M732.7,457.0h0M733.3,453.2h0M733.8,455.9h0M734.6,455.4h0M734.0,456.3h0M734.9,456.2h0M734.9,456.4h0M735.9,454.4h0M735.7,457.4h0M736.7,455.1h0M736.5,458.4h0M737.3,455.7h0M737.3,457.2h0M738.1,456.5h0M738.3,456.2h0M739.0,456.4h0M738.6,458.7h0M739.4,456.0h0M739.3,460.4h0M740.0,455.9h0M740.4,457.6h0M740.8,456.9h0M741.3,458.6h0M741.7,456.5h0M742.1,457.4h0M742.6,456.9h0M742.6,458.0h0M743.4,458.8h0M743.1,457.8h0M744.0,458.1h0M744.3,457.4h0M744.7,459.1h0M744.7,457.0h0M745.6,456.5h0M745.8,456.4h0M746.6,457.5h0M746.5,457.5h0M746.8,455.2h0M746.9,456.1h0M747.7,456.2h0M747.9,457.2h0M748.6,458.1h0M748.3,455.9h0M749.4,456.2h0M749.0,456.4h0M750.3,456.6h0M750.2,457.6h0M751.1,457.2h0M750.7,457.2h0M751.6,457.6h0M751.7,457.0h0M752.5,455.4h0M752.5,456.4h0M752.9,456.4h0M753.1,457.2h0M753.8,457.4h0M753.8,455.7h0M754.4,455.4h0M754.5,456.6h0M755.0,457.3h0M755.1,456.5h0M755.9,456.6h0M756.3,458.6h0M756.6,457.2h0M756.9,457.0h0M757.5,456.5h0M757.4,456.8h0M758.4,456.0h0M758.0,456.9h0M759.2,455.6h0M759.0,456.3h0M760.1,453.4h0M759.8,454.8h0M760.3,451.2h0M760.4,453.4h0M761.5,450.8h0M761.4,452.5h0M762.0,449.6h0M762.2,451.9h0M762.1,450.1h0M762.6,448.5h0M762.8,452.6h0M763.5,449.4h0M763.5,452.7h0M764.1,449.1h0M764.5,451.5h0M765.3,449.6h0M764.9,452.0h0M765.9,450.2h0M765.9,452.5h0M766.8,448.8h0M766.5,450.8h0M767.4,450.6h0M767.2,452.6h0M768.3,450.9h0M768.0,452.1h0M768.9,449.0h0M768.9,453.8h0M769.3,450.5h0M769.5,452.5h0M770.0,449.0h0M770.1,452.8h0M770.4,451.1h0M771.3,449.0h0M771.1,451.4h0M771.0,451.9h0M771.5,449.2h0M772.0,451.3h0M771.8,449.0h0M772.4,447.6h0M772.3,452.6h0M772.7,449.8h0M773.3,447.5h0M773.6,451.0h0M773.5,451.4h0M774.2,447.7h0M773.8,451.5h0M774.2,450.1h0M774.9,447.2h0M775.1,450.2h0M774.8,447.2h0M774.7,448.5h0M775.3,448.8h0M775.7,450.7h0M775.4,448.4h0M775.4,449.7h0M776.5,447.1h0M776.1,451.6h0M776.1,446.8h0M776.4,449.8h0M777.1,446.6h0M776.8,448.3h0M777.0,446.2h0M777.2,447.8h0M778.0,446.5h0M778.1,450.6h0M777.9,449.6h0M778.0,446.2h0M778.7,446.0h0M778.5,448.6h0M778.7,445.8h0M778.5,446.1h0M779.6,444.3h0M779.3,449.0h0M779.4,446.6h0M779.3,448.3h0M780.2,445.8h0M780.3,449.1h0M780.1,447.3h0M780.0,447.2h0M780.5,445.4h0M780.6,447.9h0M780.6,447.5h0M780.9,447.1h0M781.4,444.2h0M781.6,449.4h0M781.4,446.5h0M781.5,445.3h0M782.1,444.9h0M782.6,448.4h0M782.2,444.9h0M782.3,444.1h0M782.9,442.9h0M783.3,447.4h0M783.1,446.0h0M783.1,446.6h0M783.7,445.6h0M784.0,446.8h0M783.7,443.5h0M783.7,445.7h0M784.3,444.0h0M784.3,447.0h0M784.5,444.6h0M784.4,442.8h0M785.2,442.9h0M785.2,446.9h0M785.2,444.3h0M785.1,447.0h0M786.2,442.5h0M785.9,448.1h0M786.2,445.1h0M785.9,447.3h0M786.2,443.0h0M786.8,442.0h0M786.7,448.7h0M786.8,446.7h0M786.9,446.3h0M786.8,442.5h0M787.3,443.5h0M787.8,450.5h0M787.4,447.8h0M787.4,444.8h0M787.4,448.4h0M788.5,443.5h0M788.6,450.3h0M788.2,446.9h0M788.4,444.5h0M788.3,443.6h0M789.2,443.8h0M788.9,449.7h0M789.1,447.8h0M789.1,449.4h0M789.2,444.8h0M789.8,444.4h0M789.6,450.1h0M789.6,446.3h0M790.0,448.5h0M789.6,445.4h0M790.6,444.1h0M790.3,450.8h0M790.6,448.2h0M790.4,449.4h0M790.4,448.1h0M791.3,443.2h0M791.2,449.1h0M791.3,447.8h0M791.4,450.9h0M791.4,447.8h0M792.2,443.0h0M792.3,452.3h0M792.2,445.5h0M792.1,447.1h0M791.9,449.5h0M792.6,444.0h0M792.8,451.6h0M792.9,449.1h0M793.0,451.0h0M792.9,445.8h0M793.7,442.0h0M793.5,450.3h0M793.5,443.8h0M793.5,447.4h0M793.5,444.4h0M794.3,443.9h0M794.3,449.6h0M794.2,446.6h0M794.3,445.8h0M794.2,443.2h0M795.1,443.6h0M795.0,449.5h0M795.0,447.8h0M795.0,448.2h0M794.9,443.5h0M795.6,441.9h0M795.7,448.3h0M796.0,445.2h0M795.8,448.9h0M795.9,446.3h0M796.7,442.4h0M796.8,448.3h0M796.6,446.0h0M796.4,447.1h0M796.5,446.5h0M797.2,443.4h0M797.2,448.7h0M797.5,443.8h0M797.2,445.4h0M797.5,443.1h0M797.9,443.1h0M798.0,448.3h0M798.2,446.7h0M798.2,443.3h0M799.0,442.3h0M798.8,446.6h0M799.0,445.4h0M798.7,443.7h0M799.5,443.6h0M799.8,447.2h0M799.6,447.0h0M799.4,445.1h0M800.3,443.3h0M800.6,446.5h0M800.4,444.9h0M800.3,446.5h0M801.3,442.4h0M801.3,446.5h0M800.9,443.3h0M800.9,444.5h0M801.8,441.5h0M801.6,445.6h0M801.9,444.3h0M801.7,445.5h0M802.8,442.8h0M802.3,446.6h0M802.5,442.9h0M802.5,444.4h0M803.5,439.3h0M803.6,444.5h0M803.5,441.6h0M803.1,441.6h0M803.3,444.0h0M803.9,436.1h0M803.8,442.6h0M804.1,437.1h0M804.2,440.0h0M804.2,438.2h0M804.2,438.3h0M804.5,435.5h0M804.7,444.4h0M805.0,438.4h0M804.9,435.2h0M804.8,440.3h0M804.6,440.7h0M805.5,434.3h0M805.7,442.8h0M805.4,435.7h0M805.4,437.2h0M805.6,444.1h0M805.7,443.1h0M806.1,435.1h0M806.3,445.0h0M806.5,440.2h0M806.1,436.5h0M806.2,440.3h0M806.3,442.6h0M806.8,436.7h0M806.9,443.1h0M807.0,442.3h0M806.9,441.6h0M807.2,439.5h0M807.1,434.3h0M807.9,433.3h0M807.8,443.7h0M807.6,436.1h0M807.9,434.8h0M807.6,436.3h0M807.9,439.0h0M808.5,435.7h0M808.4,442.8h0M808.6,441.6h0M808.5,438.0h0M808.6,442.7h0M808.6,435.9h0M809.3,434.8h0M809.4,441.5h0M809.1,438.8h0M809.2,439.5h0M809.4,438.5h0M810.1,435.5h0M810.1,441.4h0M810.1,436.9h0M810.2,438.8h0M810.0,437.1h0M811.0,437.7h0M810.6,442.9h0M810.6,439.8h0M810.6,441.2h0M810.9,437.9h0M811.5,435.5h0M811.5,442.0h0M811.7,439.8h0M811.6,436.1h0M811.4,437.1h0M812.0,434.3h0M812.6,442.1h0M812.3,441.0h0M812.3,438.3h0M812.2,437.9h0M813.3,434.2h0M813.0,441.0h0M812.9,438.5h0M813.1,437.5h0M813.2,439.6h0M813.6,434.7h0M813.9,440.5h0M813.9,437.1h0M813.6,436.8h0M813.9,437.9h0M814.3,434.7h0M814.6,439.1h0M814.4,438.5h0M814.7,439.6h0M814.6,439.2h0M815.1,432.3h0M815.2,439.5h0M815.2,439.2h0M815.4,433.5h0M815.1,437.2h0M816.3,432.8h0M815.8,440.5h0M816.1,434.8h0M816.0,434.6h0M816.8,435.3h0M816.9,438.5h0M817.0,437.9h0M816.6,438.5h0M817.6,435.1h0M817.3,438.9h0M817.6,434.8h0M817.7,436.6h0M818.5,433.6h0M818.4,438.3h0M818.4,436.1h0M818.2,435.9h0M819.2,434.3h0M819.0,437.6h0M819.1,434.3h0M819.0,438.2h0M819.7,434.4h0M819.6,438.5h0M819.8,437.6h0M819.9,434.2h0M820.7,433.8h0M820.6,438.5h0M820.6,434.9h0M820.6,434.7h0M821.2,435.3h0M821.3,439.0h0M821.4,436.4h0M821.3,436.6h0M821.8,434.8h0M822.3,438.2h0M822.2,437.3h0M821.9,438.1h0M822.7,435.6h0M822.9,439.7h0M822.9,436.0h0M822.9,437.1h0M823.7,436.3h0M823.5,439.4h0M823.5,436.0h0M824.5,436.6h0M824.3,440.0h0M825.3,438.7h0M825.2,439.1h0M825.8,438.4h0M825.6,439.6h0M826.7,438.4h0M826.8,438.3h0M827.6,439.4h0M827.1,439.1h0M828.0,440.6h0M828.3,439.8h0M829.0,439.6h0M829.1,439.9h0M829.3,441.1h0M829.3,441.9h0M830.6,439.8h0M830.3,441.4h0M831.1,438.6h0M831.3,441.2h0M831.7,441.5h0M831.9,441.0h0M832.6,440.3h0M832.8,441.1h0M833.2,437.8h0M833.1,441.0h0M834.1,440.8h0M834.2,441.1h0M834.6,439.9h0M835.0,443.8h0M835.7,441.1h0M835.6,442.5h0M836.5,440.6h0M836.4,443.6h0M836.9,440.0h0M837.3,442.3h0M837.2,441.0h0M838.1,440.9h0M837.7,443.3h0M837.6,443.5h0M838.5,439.6h0M838.6,442.8h0M838.6,442.1h0M839.3,441.7h0M839.3,444.5h0M839.3,441.3h0M839.8,439.9h0M840.0,444.8h0M839.9,444.8h0M839.9,444.6h0M840.5,441.3h0M840.7,445.6h0M840.8,444.5h0M840.8,443.0h0M841.5,441.2h0M841.8,445.8h0M841.4,442.1h0M841.6,443.1h0M842.4,443.2h0M842.2,446.0h0M842.5,443.2h0M842.3,443.3h0M843.1,442.1h0M843.0,445.6h0M843.1,443.5h0M843.0,444.8h0M843.9,442.6h0M843.6,447.4h0M843.6,443.4h0M843.7,443.6h0M844.6,442.9h0M844.4,445.2h0M844.4,444.2h0M845.1,444.1h0M845.2,447.7h0M846.2,444.9h0M846.1,447.5h0M846.9,445.0h0M846.7,446.6h0M847.8,444.5h0M847.3,445.9h0M848.5,445.8h0M848.2,447.3h0M849.1,445.3h0M848.8,446.2h0M849.9,443.3h0M850.1,446.8h0M850.8,446.9h0M850.3,447.4h0M851.1,447.3h0M851.4,447.4h0M852.1,445.2h0M851.8,447.1h0M852.8,446.2h0M853.0,447.3h0M853.6,447.1h0M853.6,448.6h0M854.2,447.4h0M854.4,449.1h0M855.1,447.5h0M855.0,448.8h0M855.8,448.4h0M855.6,450.1h0M856.4,448.3h0M856.6,450.4h0M857.0,449.0h0M857.3,449.4h0M857.8,445.9h0M858.0,449.9h0M858.1,448.8h0M858.8,449.2h0M858.8,450.0h0M858.7,448.3h0M859.4,448.8h0M859.5,451.2h0M859.6,449.2h0M860.1,448.4h0M860.1,450.3h0M860.3,446.9h0M860.1,447.5h0M861.1,444.8h0M861.1,451.9h0M861.1,446.4h0M861.2,448.4h0M862.0,447.7h0M861.8,449.6h0M861.7,447.7h0M861.6,448.5h0M862.4,445.6h0M862.7,450.2h0M862.6,448.7h0M862.7,446.8h0M863.4,443.9h0M863.5,448.4h0M863.4,447.8h0M863.2,449.3h0M864.3,445.5h0M864.2,449.3h0M864.1,448.6h0M864.2,446.8h0M864.7,444.7h0M864.8,449.9h0M864.9,444.3h0M864.6,446.4h0M865.3,444.4h0M865.8,448.7h0M865.4,444.6h0M865.7,447.2h0M866.2,443.3h0M866.6,448.5h0M866.3,446.2h0M866.3,445.7h0M867.2,445.0h0M867.3,446.7h0M867.2,446.0h0M867.0,444.2h0M867.6,442.4h0M868.0,447.4h0M867.7,446.4h0M868.7,442.4h0M868.4,446.4h0M868.5,445.3h0M869.4,443.2h0M869.5,445.9h0M870.0,443.3h0M870.0,445.5h0M870.9,443.3h0M870.8,445.0h0M871.3,444.9h0M871.6,446.2h0M872.6,444.5h0M872.1,445.9h0M872.8,445.3h0M872.8,447.1h0M873.7,444.4h0M873.7,446.5h0M874.8,444.6h0M874.6,446.4h0M875.1,444.3h0M875.1,447.0h0M876.1,445.2h0M876.1,446.1h0M877.0,445.6h0M876.6,448.1h0M877.7,446.4h0M877.5,448.5h0M878.2,445.0h0M878.3,448.4h0M879.2,447.0h0M879.1,449.8h0M879.7,446.2h0M879.9,449.4h0M879.7,449.4h0M880.3,446.9h0M880.8,448.5h0M880.5,450.1h0M881.0,448.3h0M881.0,450.4h0M881.4,448.0h0M882.2,448.5h0M882.0,450.5h0M881.9,449.2h0M882.7,448.3h0M883.1,451.8h0M882.9,448.6h0M883.8,449.5h0M883.6,451.8h0M883.4,449.4h0M884.1,449.4h0M884.2,450.4h0M884.4,450.4h0M885.2,450.6h0M885.1,450.9h0M885.1,449.7h0M885.9,448.5h0M885.9,451.3h0M885.7,450.2h0M886.7,450.9h0M886.6,452.1h0M886.6,450.5h0M887.3,448.7h0M887.0,452.3h0M887.3,450.5h0M888.1,450.2h0M887.9,452.2h0M888.2,451.1h0M889.0,450.2h0M888.8,453.2h0M889.3,451.3h0M889.3,452.8h0M890.3,449.1h0M890.2,452.1h0M891.3,450.1h0M891.2,452.2h0M892.0,449.9h0M892.0,450.6h0M892.8,451.6h0M892.4,451.1h0M893.5,449.8h0M893.5,452.5h0M894.2,452.1h0M894.1,451.8h0M894.9,449.6h0M894.8,452.4h0M895.6,450.1h0M895.8,451.1h0M896.5,449.5h0M896.3,452.9h0M897.1,449.7h0M897.0,451.8h0M898.1,449.9h0M897.5,450.7h0M898.4,449.7h0M898.7,451.6h0M899.5,450.0h0M899.6,451.7h0M900.0,447.6h0M900.1,450.5h0M900.9,449.5h0M900.7,450.9h0M901.3,449.6h0M901.8,451.4h0M902.4,449.7h0M902.2,449.5h0M903.1,450.6h0M903.2,449.8h0M903.8,449.0h0M903.6,450.9h0M904.4,449.2h0M904.3,451.1h0M905.1,449.1h0M905.0,449.9h0M906.0,450.4h0M905.8,448.5h0M906.9,449.7h0M906.8,450.8h0M907.8,449.1h0M907.8,451.0h0M908.2,450.5h0M908.3,451.1h0M908.9,449.1h0M909.2,452.6h0M909.6,451.5h0M909.8,451.7h0M910.8,451.1h0M910.7,451.2h0M911.5,450.1h0M911.3,452.3h0M911.9,449.7h0M912.0,452.7h0M912.8,448.9h0M912.7,453.3h0M913.4,450.4h0M913.8,452.2h0M914.6,450.8h0M914.5,452.1h0M914.4,452.9h0M915.3,450.1h0M914.9,452.3h0M915.8,450.7h0M915.8,452.4h0M916.7,450.3h0M916.4,452.0h0M917.1,450.3h0M917.5,451.9h0M918.3,451.3h0M918.3,451.7h0M918.9,449.4h0M918.5,450.5h0M919.3,450.4h0M919.8,452.0h0M920.5,450.2h0M920.4,451.6h0M920.8,449.3h0M920.9,452.6h0M921.8,450.3h0M921.9,450.0h0M922.7,449.8h0M922.8,451.7h0M923.5,449.0h0M923.3,451.5h0M924.2,449.6h0M924.1,451.4h0M924.6,451.2h0M925.0,451.2h0M925.7,450.6h0M925.6,450.4h0M926.3,449.5h0M926.4,451.1h0M927.3,449.1h0M927.2,451.6h0M927.6,450.5h0M927.7,450.8h0M928.5,449.9h0M928.7,448.9h0M929.2,450.1h0M929.1,453.4h0M930.1,451.5h0M930.3,451.9h0M931.0,450.7h0M931.0,451.5h0M931.5,450.4h0M931.7,451.4h0M932.5,452.2h0M932.1,453.0h0M933.0,451.7h0M933.0,452.5h0M933.6,450.8h0M933.9,452.6h0M934.5,451.4h0M934.4,451.6h0M935.0,452.2h0M935.5,454.1h0M935.9,451.5h0M935.8,451.8h0M937.1,451.2h0M936.5,454.0h0" fill="none" stroke="#000" stroke-width="5.56" stroke-linecap="round"/>
<path d="M128.60,274.7 128.85,274.7 129.10,274.6 129.35,275.6 129.60,275.3 129.85,275.3 130.10,276.1 130.35,275.6 130.60,275.8 130.85,276.5 131.10,275.5 131.35,275.2 131.60,274.9 131.85,273.4 132.10,273.3 132.35,272.8 132.60,271.4 132.85,271.5 133.10,270.6 133.35,269.3 133.60,269.4 133.85,268.2 134.10,267.2 134.35,267.2 134.60,265.8 134.85,265.1 135.10,265.1 135.35,263.7 135.60,263.4 135.85,263.2 136.10,261.8 136.35,261.7 136.60,261.2 136.85,259.9 137.10,260.4 137.35,260.6 137.60,260.3 137.85,261.5 138.10,261.4 138.35,261.4 138.60,262.5 138.85,262.2 139.10,262.3 139.35,262.8 139.60,261.8 139.85,261.8 140.10,262.1 140.35,261.0 140.60,261.1 140.85,260.6 141.10,259.1 141.35,259.1 141.60,258.3 141.85,256.9 142.10,257.0 142.35,255.9 142.60,255.1 142.85,256.1 143.10,255.8 143.35,255.9 143.60,256.8 143.85,256.2 144.10,256.6 144.35,257.3 144.60,256.6 144.85,257.0 145.10,257.3 145.35,256.4 145.60,257.0 145.85,257.0 146.10,256.2 146.35,256.6 146.60,256.0 146.85,255.1 147.10,255.6 147.35,254.7 147.60,254.2 147.85,254.5 148.10,253.6 148.35,253.7 148.60,254.3 148.85,253.6 149.10,253.9 149.35,254.3 149.60,253.5 149.85,254.1 150.10,254.0 150.35,252.5 150.60,252.6 150.85,251.6 151.10,250.4 151.35,250.5 151.60,249.3 151.85,248.3 152.10,248.4 152.35,247.2 152.60,246.7 152.85,246.8 153.10,245.4 153.35,245.2 153.60,245.1 153.85,243.7 154.10,243.7 154.35,243.3 154.60,242.1 154.85,242.4 155.10,241.8 155.35,240.8 155.60,241.2 155.85,240.3 156.10,239.6 156.35,239.9 156.60,238.9 156.85,238.4 157.10,238.6 157.35,237.5 157.60,237.3 157.85,237.4 158.10,236.2 158.35,236.2 158.60,236.1 158.85,234.9 159.10,235.2 159.35,234.8 159.60,233.8 159.85,234.2 160.10,233.4 160.35,232.7 160.60,233.1 160.85,232.2 161.10,231.7 161.35,232.1 161.60,231.0 161.85,230.8 162.10,231.0 162.35,229.8 162.60,229.9 162.85,229.8 163.10,228.7 163.35,229.0 163.60,228.7 163.85,227.8 164.10,228.4 164.35,227.9 164.60,227.2 164.85,227.8 165.10,227.1 165.35,226.7 165.60,227.4 165.85,226.9 166.10,227.3 166.35,228.1 166.60,227.5 166.85,228.0 167.10,228.5 167.35,227.8 167.60,228.4 167.85,228.6 168.10,228.0 168.35,228.0 168.60,227.1 168.85,225.9 169.10,226.0 169.35,224.8 169.60,223.9 169.85,223.9 170.10,222.6 170.35,221.8 170.60,221.7 170.85,220.2 171.10,219.7 171.35,219.4 171.60,217.8 171.85,217.6 172.10,217.0 172.35,215.6 172.60,215.7 172.85,214.9 173.10,213.7 173.35,213.9 173.60,212.8 173.85,211.9 174.10,212.1 174.35,211.7 174.60,212.0 174.85,213.0 175.10,212.5 175.35,213.0 175.60,213.8 175.85,213.3 176.10,214.0 176.35,214.0 176.60,213.0 176.85,213.5 177.10,213.2 177.35,212.3 177.60,212.8 177.85,211.7 178.10,210.6 178.35,210.6 178.60,209.3 178.85,208.4 179.10,208.3 179.35,206.8 179.60,206.3 179.85,207.0 180.10,206.4 180.35,207.0 180.60,207.4 180.85,206.8 181.10,207.6 181.35,207.8 181.60,207.3 181.85,208.0 182.10,207.7 182.35,207.2 182.60,207.9 182.85,207.3 183.10,207.0 183.35,207.4 183.60,206.3 183.85,206.0 184.10,206.2 184.35,205.0 184.60,205.0 184.85,204.9 185.10,203.8 185.35,204.3 185.60,204.4 185.85,203.7 186.10,204.3 186.35,203.8 186.60,202.9 186.85,203.3 187.10,202.5 187.35,201.2 187.60,200.9 187.85,199.2 188.10,198.2 188.35,197.8 188.60,196.0 188.85,195.3 189.10,194.6 189.35,193.0 189.60,192.7 189.85,192.0 190.10,190.4 190.35,190.2 190.60,189.2 190.85,187.8 191.10,187.7 191.35,186.5 191.60,185.3 191.85,185.3 192.10,184.0 192.35,183.2 192.60,183.1 192.85,181.6 193.10,181.1 193.35,180.8 193.60,179.3 193.85,179.0 194.10,178.5 194.35,177.0 194.60,176.9 194.85,176.2 195.10,174.8 195.35,174.9 195.60,173.9 195.85,172.8 196.10,172.9 196.35,171.6 196.60,170.8 196.85,170.8 197.10,169.4 197.35,168.8 197.60,168.7 197.85,167.2 198.10,166.9 198.35,166.6 198.60,165.1 198.85,165.1 199.10,164.5 199.35,163.1 199.60,163.2 199.85,162.3 200.10,161.2 200.35,161.3 200.60,160.2 200.85,159.5 201.10,159.7 201.35,158.4 201.60,158.0 201.85,158.0 202.10,156.7 202.35,156.5 202.60,156.4 202.85,155.5 203.10,156.0 203.35,156.0 203.60,155.2 203.85,155.7 204.10,155.3 204.35,154.5 204.60,155.1 204.85,154.4 205.10,153.9 205.35,153.8 205.60,152.2 205.85,151.1 206.10,150.7 206.35,148.9 206.60,148.2 206.85,147.6 207.10,145.7 207.35,145.2 207.60,144.2 207.85,142.4 208.10,142.0 208.35,140.8 208.60,139.1 208.85,138.8 209.10,137.3 209.35,136.4 209.60,138.2 209.85,138.6 210.10,139.5 210.35,141.2 210.60,141.5 210.85,142.7 211.10,144.2 211.35,145.1 211.60,147.6 211.85,149.7 212.10,150.9 212.35,153.6 212.60,155.5 212.85,156.8 213.10,159.5 213.35,160.8 213.60,161.8 213.85,164.0 214.10,164.8 214.35,166.1 214.60,168.2 214.85,168.5 215.10,169.6 215.35,171.0 215.60,171.1 215.85,172.4 216.10,173.6 216.35,173.7 216.60,175.2 216.85,176.8 217.10,178.0 217.35,180.6 217.60,182.1 217.85,183.5 218.10,186.1 218.35,187.5 218.60,189.1 218.85,191.5 219.10,192.4 219.35,194.0 219.60,196.2 219.85,197.0 220.10,198.9 220.35,200.6 220.60,201.1 220.85,202.9 221.10,204.3 221.35,204.9 221.60,206.9 221.85,207.9 222.10,208.7 222.35,211.0 222.60,212.2 222.85,213.6 223.10,216.0 223.35,217.0 223.60,218.6 223.85,220.9 224.10,221.8 224.35,223.2 224.60,224.6 224.85,224.7 225.10,226.2 225.35,227.3 225.60,227.5 225.85,229.2 226.10,230.0 226.35,230.6 226.60,232.5 226.85,233.2 227.10,234.0 227.35,235.9 227.60,236.4 227.85,237.5 228.10,239.3 228.35,239.7 228.60,241.0 228.85,242.7 229.10,243.2 229.35,244.9 229.60,246.4 229.85,246.8 230.10,248.8 230.35,250.0 230.60,250.6 230.85,252.6 231.10,253.5 231.35,254.4 231.60,256.4 231.85,257.1 232.10,258.3 232.35,260.3 232.60,260.8 232.85,262.3 233.10,264.1 233.35,264.6 233.60,266.3 233.85,267.9 234.10,268.4 234.35,270.3 234.60,271.6 234.85,272.3 235.10,274.4 235.35,275.5 235.60,276.5 235.85,278.7 236.10,279.6 236.35,280.8 236.60,282.9 236.85,283.6 237.10,285.1 237.35,287.1 237.60,287.7 237.85,289.6 238.10,291.5 238.35,292.2 238.60,294.3 238.85,296.0 239.10,296.8 239.35,299.1 239.60,300.4 239.85,301.7 240.10,304.5 240.35,306.0 240.60,307.8 240.85,310.4 241.10,311.6 241.35,313.5 241.60,315.9 241.85,317.0 242.10,319.1 242.35,321.0 242.60,321.3 242.85,322.8 243.10,324.0 243.35,324.3 243.60,326.0 243.85,327.0 244.10,327.4 244.35,329.2 244.60,329.8 244.85,330.4 245.10,332.2 245.35,332.5 245.60,333.5 245.85,335.1 246.10,335.3 246.35,336.6 246.60,338.1 246.85,338.4 247.10,340.0 247.35,341.3 247.60,341.6 247.85,343.4 248.10,344.5 248.35,345.3 248.60,348.1 248.85,349.8 249.10,351.5 249.35,354.3 249.60,355.8 249.85,357.7 250.10,360.4 250.35,361.5 250.60,363.1 250.85,365.2 251.10,365.8 251.35,367.8 251.60,369.5 251.85,370.0 252.10,371.6 252.35,372.4 252.60,372.5 252.85,374.1 253.10,374.6 253.35,375.0 253.60,376.6 253.85,377.2 254.10,378.8 254.35,381.3 254.60,382.3 254.85,384.1 255.10,386.4 255.35,387.4 255.60,389.5 255.85,391.5 256.10,392.2 256.35,394.2 256.60,395.8 256.85,396.6 257.10,398.8 257.35,400.0 257.60,400.7 257.85,402.6 258.10,403.4 258.35,404.3 258.60,406.2 258.85,406.7 259.10,407.9 259.35,409.9 259.60,410.7 259.85,412.5 260.10,414.5 260.35,415.2 260.60,416.9 260.85,417.7 261.10,417.7 261.35,418.7 261.60,418.6 261.85,418.0 262.10,418.7 262.35,418.3 262.60,417.9 262.85,418.7 263.10,418.0 263.35,418.0 263.60,418.8 263.85,418.2 264.10,418.5 264.35,419.2 264.60,418.5 264.85,419.1 265.10,419.5 265.35,418.8 265.60,419.6 265.85,419.8 266.10,419.4 266.35,420.4 266.60,420.4 266.85,420.2 267.10,421.3 267.35,421.0 267.60,421.1 267.85,422.1 268.00,421.8 268.25,421.8 268.50,423.1 268.75,423.1 269.00,423.3 269.25,424.6 269.50,424.4 269.75,424.8 270.00,425.9 270.25,425.5 270.50,426.2 270.75,427.0 271.00,426.6 271.25,427.5 271.50,428.1 271.75,427.7 272.00,428.8 272.25,429.1 272.50,428.9 272.75,430.1 273.00,430.1 273.25,430.2 273.50,431.4 273.75,431.2 274.00,431.5 274.25,432.6 274.50,432.2 274.75,432.8 275.00,433.8 275.25,433.5 275.50,434.6 275.75,435.3 276.00,435.1 276.25,436.3 276.50,436.8 276.75,436.7 277.00,438.5 277.25,439.2 277.50,439.8 277.75,441.6 278.00,441.9 278.25,442.5 278.50,444.0 278.75,444.1 279.00,445.1 279.25,446.4 279.50,445.9 279.75,446.3 280.00,446.6 280.25,445.8 280.50,446.4 280.75,446.4 281.00,445.7 281.25,446.5 281.50,446.1 281.75,445.6 282.00,446.3 282.25,445.6 282.50,445.3 282.75,445.9 283.00,445.1 283.25,445.1 283.50,445.6 283.75,444.7 284.00,445.1 284.25,445.4 284.50,444.5 284.75,445.0 285.00,445.0 285.25,444.3 285.50,445.5 285.75,446.2 286.00,446.5 286.25,448.1 286.50,448.5 286.75,449.0 287.00,450.5 287.25,450.7 287.50,451.1 287.75,452.0 288.00,451.4 288.25,451.9 288.50,452.5 288.75,451.9 289.00,452.3 289.25,452.1 289.50,451.0 289.75,451.4 290.00,450.9 290.25,450.0 290.50,450.4 290.75,449.6 291.00,449.5 291.25,450.8 291.50,450.8 291.75,451.3 292.00,452.5 292.25,452.2 292.50,453.0 292.75,454.0 293.00,453.5 293.25,454.3 293.50,454.8 293.75,454.3 294.00,455.2 294.25,455.4 294.50,454.8 294.75,455.6 295.00,455.2 295.25,454.7 295.50,455.4 295.75,454.8 296.00,454.6 296.25,455.2 296.50,454.7 296.75,455.2 297.00,456.0 297.25,455.5 297.50,456.2 297.75,456.8 298.00,456.3 298.25,457.2 298.50,457.1 298.75,456.0 299.00,456.4 299.25,455.8 299.50,454.9 299.75,455.3 300.00,454.4 300.25,453.8 300.50,454.3 300.75,453.4 301.00,453.2 301.25,453.6 301.50,452.6 301.75,452.7 302.00,452.9 302.25,451.9 302.50,452.2 302.75,452.1 303.00,451.3 303.25,451.9 303.50,451.6 303.75,451.0 304.00,451.7 304.25,451.2 304.50,450.8 304.75,451.5 305.00,450.7 305.25,450.6 305.50,451.2 305.75,450.3 306.00,450.6 306.25,450.9 306.50,450.1 306.75,450.6 307.00,450.7 307.25,449.9 307.50,450.6 307.75,450.4 308.00,449.8 308.25,450.6 308.50,450.2 308.75,449.8 309.00,450.6 309.25,450.0 309.50,450.0 309.75,450.6 310.00,449.9 310.25,450.2 310.50,450.7 310.75,449.9 311.00,450.4 311.25,450.6 311.50,449.9 311.75,450.6 312.00,450.7 312.25,450.2 312.50,451.2 312.75,451.0 313.00,450.7 313.25,451.7 313.50,451.3 313.75,451.3 314.00,452.5 314.25,452.4 314.50,453.1 314.75,454.3 315.00,454.0 315.25,454.9 315.50,455.7 315.75,455.3 316.00,456.4 316.25,456.9 316.50,456.4 316.75,456.9 317.00,456.2 317.25,455.4 317.50,455.9 317.75,455.0 318.00,454.5 318.25,454.9 318.50,453.8 318.75,453.5 319.00,453.6 319.25,452.4 319.50,452.4 319.75,452.3 320.00,451.1 320.25,451.2 320.50,450.9 320.75,449.9 321.00,450.4 321.25,449.9 321.50,449.0 321.75,449.5 322.00,448.7 322.25,448.2 322.50,448.9 322.75,448.9 323.00,449.5 323.25,450.7 323.50,450.6 323.75,451.5 324.00,452.5 324.25,452.3 324.50,453.3 324.75,453.5 325.00,452.8 325.25,453.6 325.50,453.6 325.75,453.1 326.00,453.7 326.25,452.9 326.50,452.1 326.75,452.4 327.00,451.4 327.25,450.9 327.50,451.1 327.75,449.9 328.00,449.9 328.25,450.9 328.50,450.6 328.75,451.5 329.00,452.2 329.25,452.0 329.50,453.1 329.75,453.6 330.00,453.4 330.25,454.4 330.50,454.3 330.75,454.1 331.00,455.2 331.25,454.8 331.50,454.8 331.75,455.5 332.00,454.7 332.25,454.8 332.50,455.2 332.75,454.4 333.00,454.7 333.25,454.9 333.50,454.2 333.75,455.1 334.00,455.5 334.25,455.1 334.50,456.2 334.75,456.2 335.00,456.1 335.25,457.2 335.50,456.7 335.75,456.1 336.00,456.5 336.25,455.4 336.50,455.1 336.75,455.3 337.00,454.1 337.25,454.1 337.50,454.2 337.75,453.1 338.00,453.5 338.25,453.4 338.50,452.5 338.75,453.0 339.00,452.6 339.25,451.9 339.50,452.5 339.75,451.8 340.00,451.4 340.25,452.1 340.50,451.3 340.75,451.3 341.00,451.8 341.25,450.9 341.50,451.1 341.75,451.5 342.00,450.6 342.25,451.0 342.50,451.1 342.75,450.3 343.00,450.9 343.25,450.8 343.50,450.2 343.75,450.9 344.00,450.5 344.25,450.2 344.50,450.9 344.75,450.3 345.00,450.2 345.25,450.8 345.50,450.1 345.75,450.3 346.00,450.7 346.25,450.0 346.50,450.5 346.75,450.7 347.00,450.0 347.25,450.7 347.50,450.7 347.75,450.1 348.00,450.9 348.25,450.6 348.50,450.2 348.75,451.1 349.00,450.6 349.25,450.6 349.50,451.5 349.75,450.9 350.00,451.3 350.25,452.0 350.50,451.3 350.75,451.9 351.00,452.5 351.25,452.4 351.50,453.6 351.75,454.2 352.00,454.2 352.25,455.4 352.50,455.6 352.75,455.6 353.00,456.9 353.25,456.8 353.50,457.1 353.75,457.5 354.00,456.5 354.25,456.2 354.50,456.5 354.75,455.3 355.00,455.3 355.25,455.3 355.50,454.2 355.75,454.4 356.00,454.1 356.25,453.0 356.50,453.3 356.75,452.7 357.00,451.7 357.25,452.1 357.50,451.3 357.75,450.7 358.00,451.2 358.25,450.2 358.50,449.9 358.75,450.3 359.00,449.2 359.25,449.2 359.50,449.3 359.75,449.1 360.00,450.3 360.25,451.1 360.50,451.0 360.75,452.3 361.00,452.8 361.25,452.9 361.50,454.3 361.75,454.0 362.00,453.8 362.25,454.7 362.50,454.1 362.75,454.2 363.00,454.9 363.25,453.7 363.50,453.5 363.75,453.6 364.00,452.3 364.25,452.4 364.50,452.2 364.75,451.0 365.00,451.2 365.25,451.7 365.50,451.6 365.75,452.8 366.00,453.0 366.25,453.1 366.50,454.4 366.75,454.4 367.00,454.7 367.25,455.7 367.50,455.2 367.75,455.6 368.00,456.4 368.25,455.9 368.50,456.5 368.75,456.8 369.00,455.9 369.25,456.5 369.50,456.5 369.75,455.7 370.00,456.4 370.25,456.1 370.50,455.6 370.75,456.7 371.00,456.5 371.25,456.6 371.50,457.7 371.75,457.3 372.00,457.7 372.25,458.6 372.50,458.1 372.75,458.1 373.00,458.1 373.25,456.9 373.50,457.2 373.75,456.9 374.00,455.8 374.25,456.2 374.50,455.6 374.75,454.9 375.00,455.5 375.25,454.8 375.50,454.4 375.75,455.0 376.00,454.1 376.25,453.9 376.50,454.4 376.75,453.4 377.00,453.5 377.25,453.8 377.50,452.9 377.75,453.4 378.00,453.5 378.25,452.7 378.50,453.3 378.75,453.1 379.00,452.5 379.25,453.2 379.50,452.7 379.75,452.3 380.00,453.0 380.25,452.4 380.50,452.3 380.75,452.9 381.00,452.1 381.25,452.3 381.50,452.8 381.75,452.0 382.00,452.4 382.25,452.6 382.50,451.8 382.75,452.5 383.00,452.4 383.25,451.8 383.50,452.6 383.75,452.3 384.00,451.9 384.25,452.8 384.50,452.2 384.75,452.1 385.00,452.9 385.25,452.2 385.50,452.4 385.75,452.9 386.00,452.2 386.25,452.7 386.50,453.2 386.75,452.6 387.00,453.4 387.25,453.5 387.50,453.0 387.75,454.0 388.00,453.9 388.25,454.0 388.50,455.4 388.75,455.5 389.00,455.9 389.25,457.2 389.50,457.0 389.75,457.5 390.00,458.6 390.25,458.2 390.50,459.1 390.75,459.3 391.00,458.2 391.25,458.5 391.50,458.2 391.75,457.2 392.00,457.6 392.25,457.0 392.50,456.2 392.75,456.6 393.00,455.7 393.25,455.0 393.50,455.4 393.75,454.3 394.00,453.9 394.25,454.1 394.50,452.9 394.75,452.9 395.00,453.0 395.25,451.9 395.50,452.2 395.75,452.0 396.00,451.0 396.25,451.4 396.50,451.0 396.75,450.7 397.00,452.1 397.25,452.4 397.50,452.7 397.75,454.1 398.00,454.1 398.25,454.7 398.50,456.0 398.75,455.5 399.00,455.8 399.25,456.3 399.50,455.6 399.75,456.2 400.00,456.5 400.25,455.5 400.50,455.7 400.75,455.2 401.00,454.1 401.25,454.5 401.50,453.7 401.75,452.9 402.00,453.2 402.25,452.8 402.50,453.2 402.75,454.4 403.00,454.2 403.25,454.8 403.50,455.9 403.75,455.6 404.00,456.5 404.25,457.1 404.50,456.6 404.75,457.5 405.00,457.7 405.25,457.3 405.50,458.3 405.75,458.1 406.00,457.6 406.25,458.3 406.50,457.7 406.75,457.5 407.00,458.1 407.25,457.4 407.50,457.4 407.75,458.2 408.00,457.7 408.25,458.4 408.50,459.0 408.75,458.5 409.00,459.4 409.25,459.8 409.50,459.4 409.75,460.0 410.00,459.4 410.25,458.5 410.50,459.0 410.75,458.1 411.00,457.5 411.25,457.9 411.50,456.8 411.75,456.6 412.00,457.0 412.25,456.0 412.50,456.1 412.75,456.3 413.00,455.3 413.25,455.6 413.50,455.5 413.75,454.6 414.00,455.1 414.25,454.8 414.50,454.2 414.75,454.8 415.00,454.4 415.25,453.9 415.50,454.6 415.75,453.9 416.00,453.7 416.25,454.3 416.50,453.4 416.75,453.6 417.00,453.9 417.25,453.1 417.50,453.5 417.75,453.6 418.00,452.8 418.25,453.4 418.50,453.3 418.75,452.6 419.00,453.3 419.25,452.9 419.50,452.5 419.75,453.2 420.00,452.6 420.25,452.4 420.50,453.1 420.75,452.4 421.00,452.5 421.25,453.0 421.50,452.2 421.75,452.6 422.00,452.8 422.25,452.0 422.50,452.6 422.75,452.6 423.00,452.0 423.25,452.8 423.50,452.6 423.75,452.3 424.00,453.2 424.25,452.8 424.50,452.7 424.75,453.5 425.00,452.9 425.25,453.4 425.50,454.6 425.75,454.3 426.00,455.2 426.25,456.1 426.50,455.7 426.75,456.7 427.00,457.2 427.25,456.9 427.50,458.0 427.75,458.0 428.00,457.0 428.25,457.4 428.50,456.6 428.75,455.9 429.00,456.3 429.25,455.2 429.50,454.8 429.75,455.1 430.00,453.8 430.25,453.6 430.50,453.6 430.75,452.3 431.00,452.4 431.25,452.1 431.50,450.9 431.75,451.1 432.00,450.6 432.25,449.7 432.50,450.2 432.75,449.4 433.00,448.7 433.25,449.2 433.50,448.2 433.75,448.1 434.00,449.3 434.25,449.1 434.50,449.9 434.75,451.0 435.00,450.7 435.25,451.8 435.50,452.6 435.75,452.2 436.00,452.9 436.25,452.9 436.50,452.3 436.75,453.1 437.00,452.7 437.25,452.2 437.50,452.5 437.75,451.4 438.00,450.7 438.25,450.9 438.50,449.7 438.75,449.3 439.00,449.3 439.25,448.3 439.50,449.1 439.75,449.8 440.00,449.5 440.25,450.5 440.50,450.9 440.75,450.7 441.00,451.8 441.25,451.9 441.50,451.6 441.75,452.5 442.00,452.1 442.25,452.1 442.50,452.9 442.75,452.3 443.00,452.2 443.25,452.6 443.50,451.6 443.75,451.8 444.00,452.0 444.25,451.0 444.50,451.4 444.75,451.4 445.00,450.9 445.25,451.8 445.50,451.8 445.75,451.5 446.00,452.4 446.25,452.2 446.50,452.1 446.75,452.8 447.00,451.6 447.25,451.1 447.50,451.3 447.75,450.0 448.00,449.8 448.25,449.7 448.50,448.4 448.75,448.4 449.00,448.3 449.25,447.2 449.50,447.6 449.75,447.1 450.00,446.2 450.25,446.7 450.50,446.0 450.75,445.3 451.00,445.8 451.25,444.9 451.50,444.6 451.75,445.1 452.00,444.1 452.25,444.2 452.50,444.4 452.75,443.4 453.00,443.7 453.25,443.7 453.50,442.8 453.75,443.3 454.00,443.0 454.25,442.2 454.50,442.9 454.75,442.4 455.00,441.9 455.25,442.5 455.50,441.8 455.75,441.5 456.00,442.1 456.25,441.3 456.50,441.3 456.75,441.7 457.00,440.7 457.25,441.1 457.50,441.3 457.75,440.4 458.00,441.0 458.25,440.9 458.50,440.2 458.75,440.8 459.00,440.5 459.25,440.0 459.50,440.7 459.75,440.1 460.00,439.9 460.25,440.6 460.50,439.9 460.75,440.1 461.00,440.7 461.25,440.0 461.50,440.4 461.75,440.8 462.00,440.1 462.25,440.9 462.50,441.5 462.75,441.3 463.00,442.5 463.25,442.8 463.50,442.7 463.75,443.9 464.00,443.8 464.25,443.9 464.50,445.0 464.75,444.7 465.00,444.2 465.25,444.4 465.50,443.2 465.75,443.0 466.00,443.0 466.25,441.8 466.50,441.9 466.75,441.6 467.00,440.3 467.25,440.5 467.50,439.9 467.75,438.8 468.00,439.1 468.25,438.1 468.50,437.3 468.75,437.5 469.00,436.5 469.25,436.1 469.50,436.4 469.75,435.2 470.00,435.0 470.25,435.1 470.50,433.9 470.75,433.9 471.00,434.7 471.25,434.5 471.50,435.7 471.75,436.1 472.00,436.1 472.25,437.4 472.50,437.6 472.75,437.7 473.00,438.5 473.25,437.9 473.50,437.7 473.75,438.4 474.00,437.7 474.25,437.8 474.50,437.8 474.75,436.4 475.00,436.3 475.25,436.1 475.50,434.7 475.75,434.8 476.00,434.3 476.25,433.1 476.50,434.2 476.75,434.4 477.00,434.3 477.25,435.5 477.50,435.4 477.75,435.6 478.00,436.7 478.25,436.4 478.50,436.6 478.75,437.3 479.00,436.7 479.25,437.2 479.50,437.7 479.75,437.0 480.00,437.4 480.25,437.4 480.50,436.5 480.75,437.1 481.00,436.7 481.25,436.0 481.50,436.6 481.75,436.0 482.00,435.9 482.25,436.9 482.50,436.5 482.75,436.7 483.00,437.5 483.25,436.9 483.50,437.4 483.75,438.1 484.00,436.8 484.25,436.8 484.50,436.5 484.75,435.3 485.00,435.5 485.25,434.9 485.50,433.9 485.75,434.2 486.00,433.5 486.25,432.9 486.50,433.4 486.75,432.5 487.00,432.1 487.25,432.5 487.50,431.5 487.75,431.4 488.00,431.6 488.25,430.5 488.50,430.8 488.75,430.9 489.00,430.0 489.25,430.5 489.50,430.3 489.75,429.6 490.00,430.2 490.25,429.8 490.50,429.3 490.75,429.9 491.00,429.3 491.25,429.0 491.50,429.7 491.75,428.9 492.00,429.0 492.25,429.5 492.50,428.6 492.75,429.0 493.00,429.3 493.25,428.5 493.50,429.1 493.75,429.1 494.00,428.4 494.25,429.2 494.50,429.0 494.75,428.5 495.00,429.4 495.25,428.9 495.50,428.8 495.75,429.6 496.00,429.0 496.25,429.1 496.50,429.8 496.75,429.1 497.00,429.5 497.25,430.0 497.50,429.4 497.75,430.2 498.00,430.5 498.25,430.1 498.50,431.0 498.75,431.1 499.00,430.8 499.25,431.8 499.50,432.0 499.75,432.4 500.00,433.9 500.25,433.9 500.50,434.5 500.75,435.7 501.00,435.4 501.25,436.3 501.50,437.2 501.75,437.0 502.00,437.5 502.25,437.4 502.50,436.4 502.75,436.8 503.00,436.4 503.25,435.6 503.50,436.1 503.75,435.5 504.00,434.8 504.25,435.3 504.50,434.3 504.75,434.0 505.00,434.3 505.25,433.2 505.50,433.1 505.75,433.2 506.00,432.2 506.25,432.4 506.50,432.4 506.75,431.4 507.00,431.9 507.25,431.6 507.50,430.8 507.75,431.3 508.00,431.4 508.25,431.7 508.50,433.2 508.75,433.4 509.00,434.0 509.25,435.4 509.50,435.3 509.75,436.2 510.00,437.1 510.25,436.4 510.50,437.0 510.75,437.5 511.00,436.9 511.25,437.6 511.50,437.5 511.75,436.4 512.00,436.9 512.25,436.2 512.50,435.4 512.75,435.8 513.00,435.0 513.25,434.4 513.50,435.4 513.75,435.3 514.00,436.0 514.25,437.1 514.50,436.9 514.75,437.8 515.00,438.8 515.25,438.6 515.50,439.6 515.75,440.0 516.00,439.6 516.25,440.7 516.50,440.8 516.75,440.6 517.00,441.6 517.25,441.1 517.50,440.9 517.75,441.7 518.00,441.0 518.25,441.1 518.50,441.7 518.75,441.0 519.00,441.5 519.25,442.3 519.50,441.9 519.75,442.9 520.00,443.4 520.25,443.1 520.50,444.2 520.75,444.5 521.00,443.9 521.25,444.4 521.50,443.7 521.75,443.1 522.00,443.6 522.25,442.7 522.50,442.3 522.75,442.7 523.00,441.8 523.25,441.9 523.50,442.3 523.75,441.4 524.00,441.8 524.25,441.9 524.50,441.0 524.75,441.6 525.00,441.4 525.25,440.7 525.50,441.4 525.75,441.1 526.00,440.7 526.25,441.5 526.50,440.9 526.75,440.8 527.00,441.5 527.25,440.8 527.50,441.0 527.75,441.5 528.00,440.7 528.25,441.1 528.50,441.5 528.75,440.7 529.00,441.4 529.25,441.5 529.50,440.9 529.75,441.7 530.00,441.5 530.25,441.1 530.50,441.9 530.75,441.4 531.00,441.3 531.25,442.1 531.50,441.5 531.75,441.7 532.00,442.3 532.25,441.6 532.50,442.1 532.75,442.6 533.00,441.9 533.25,442.5 533.50,442.7 533.75,442.1 534.00,443.0 534.25,442.9 534.50,442.6 534.75,443.6 535.00,443.4 535.25,443.4 535.50,444.4 535.75,443.9 536.00,444.2 536.25,445.1 536.50,444.8 536.75,445.8 537.00,446.9 537.25,446.8 537.50,447.9 537.75,448.6 538.00,448.4 538.25,449.7 538.50,450.1 538.75,450.1 539.00,451.1 539.25,450.5 539.50,449.9 539.75,450.4 540.00,449.5 540.25,449.2 540.50,449.6 540.75,448.6 541.00,448.5 541.25,448.7 541.50,447.5 541.75,447.7 542.00,447.6 542.25,446.5 542.50,446.8 542.75,446.4 543.00,445.5 543.25,446.1 543.50,445.6 543.75,445.0 544.00,445.5 544.25,444.8 544.50,444.4 544.75,444.9 545.00,444.3 545.25,445.1 545.50,446.4 545.75,446.3 546.00,447.4 546.25,448.4 546.50,448.4 546.75,449.7 547.00,450.3 547.25,449.8 547.50,450.7 547.75,450.6 548.00,450.3 548.25,451.3 548.50,450.7 548.75,450.2 549.00,450.5 549.25,449.5 549.50,449.2 549.75,449.4 550.00,448.3 550.25,448.3 550.50,448.6 550.75,448.3 551.00,449.5 551.25,450.2 551.50,450.0 551.75,451.3 552.00,451.7 552.25,451.8 552.50,453.1 552.75,452.9 553.00,453.0 553.25,454.1 553.50,453.7 553.75,454.1 554.00,454.9 554.25,454.1 554.50,454.4 554.75,454.9 555.00,454.1 555.25,454.6 555.50,454.8 555.75,454.1 556.00,454.9 556.25,455.2 556.50,455.0 556.75,456.2 557.00,456.2 557.25,456.2 557.50,457.4 557.75,457.2 558.00,457.3 558.25,457.6 558.50,456.6 558.75,456.5 559.00,456.7 559.25,455.6 559.50,455.7 559.75,455.7 560.00,454.7 560.25,455.2 560.50,455.0 560.75,454.3 561.00,454.9 561.25,454.5 561.50,454.0 561.75,454.6 562.00,453.9 562.25,453.7 562.50,454.3 562.75,453.5 563.00,453.7 563.25,454.2 563.50,453.4 563.75,453.8 564.00,454.0 564.25,453.2 564.50,453.8 564.75,453.8 565.00,453.2 565.25,453.9 565.50,453.6 565.75,453.2 566.00,454.0 566.25,453.5 566.50,453.3 566.75,454.1 567.00,453.4 567.25,453.5 567.50,454.1 567.75,453.3 568.00,453.7 568.25,454.1 568.50,453.3 568.75,454.0 569.00,454.1 569.25,453.5 569.50,454.3 569.75,454.1 570.00,453.7 570.25,454.5 570.50,454.1 570.75,453.9 571.00,454.7 571.25,454.1 571.50,454.3 571.75,455.1 572.00,454.5 572.25,455.0 572.50,455.6 572.75,454.9 573.00,455.7 573.25,456.0 573.50,455.6 573.75,456.9 574.00,457.4 574.25,457.5 574.50,458.9 574.75,459.0 575.00,459.1 575.25,460.4 575.50,460.2 575.75,460.6 576.00,461.8 576.25,460.7 576.50,460.6 576.75,460.7 577.00,459.6 577.25,459.7 577.50,459.6 577.75,458.5 578.00,458.8 578.25,458.3 578.50,457.3 578.75,457.7 579.00,456.9 579.25,456.1 579.50,456.5 579.75,455.5 580.00,455.0 580.25,455.4 580.50,454.3 580.75,454.2 581.00,454.4 581.25,453.3 581.50,453.4 581.75,453.4 582.00,452.3 582.25,453.6 582.50,454.2 582.75,454.2 583.00,455.6 583.25,455.9 583.50,456.1 583.75,457.5 584.00,457.6 584.25,457.5 584.50,458.3 584.75,457.7 585.00,457.8 585.25,458.5 585.50,457.8 585.75,457.7 586.00,457.6 586.25,456.3 586.50,456.5 586.75,456.1 587.00,455.0 587.25,455.2 587.50,454.6 587.75,454.6 588.00,455.9 588.25,455.9 588.50,456.1 588.75,457.3 589.00,457.2 589.25,457.7 589.50,458.8 589.75,458.2 590.00,458.7 590.25,459.4 590.50,458.8 590.75,459.6 591.00,459.9 591.25,459.1 591.50,459.7 591.75,459.5 592.00,458.9 592.25,459.6 592.50,459.1 592.75,458.6 593.00,459.3 593.25,459.0 593.50,459.2 593.75,460.2 594.00,459.7 594.25,460.2 594.50,460.9 594.75,460.4 595.00,461.2 595.25,461.0 595.50,459.8 595.75,460.1 596.00,459.6 596.25,458.5 596.50,458.9 596.75,458.2 597.00,457.3 597.25,457.9 597.50,457.1 597.75,456.7 598.00,457.2 598.25,456.2 598.50,456.1 598.75,456.4 599.00,455.3 599.25,455.5 599.50,455.6 599.75,454.6 600.00,455.1 600.25,455.0 600.50,454.2 600.75,454.9 601.00,454.5 601.25,453.9 601.50,454.6 601.75,453.9 602.00,453.6 602.25,454.2 602.50,453.4 602.75,453.4 603.00,453.9 603.25,453.0 603.50,453.3 603.75,453.6 604.00,452.7 604.25,453.2 604.50,453.2 604.75,452.4 605.00,453.1 605.25,452.8 605.50,452.2 605.75,453.0 606.00,452.5 606.25,452.2 606.50,452.9 606.75,452.2 607.00,452.2 607.25,452.8 607.50,452.0 607.75,452.3 608.00,452.6 608.25,451.8 608.50,452.3 608.75,452.5 609.00,451.9 609.25,452.7 609.50,452.6 609.75,452.2 610.00,453.0 610.25,452.7 610.50,452.5 610.75,453.8 611.00,453.7 611.25,454.1 611.50,455.3 611.75,455.0 612.00,455.6 612.25,456.4 612.50,456.0 612.75,456.8 613.00,457.4 613.25,456.5 613.50,456.7 613.75,456.2 614.00,455.2 614.25,455.5 614.50,454.7 614.75,453.9 615.00,454.2 615.25,453.2 615.50,452.6 615.75,452.8 616.00,451.5 616.25,451.2 616.50,451.2 616.75,449.9 617.00,449.8 617.25,449.7 617.50,448.5 617.75,448.7 618.00,448.4 618.25,447.3 618.50,447.7 618.75,447.1 619.00,446.2 619.25,447.3 619.50,447.3 619.75,447.7 620.00,448.9 620.25,448.8 620.50,449.4 620.75,450.6 621.00,450.3 621.25,450.9 621.50,451.2 621.75,450.4 622.00,451.0 622.25,451.1 622.50,450.4 622.75,450.8 623.00,450.1 623.25,449.1 623.50,449.4 623.75,448.4 624.00,447.6 624.25,447.9 624.50,446.7 624.75,446.8 625.00,447.9 625.25,447.5 625.50,448.3 625.75,449.1 626.00,448.7 626.25,449.7 626.50,450.3 626.75,449.8 627.00,450.7 627.25,450.7 627.50,450.3 627.75,451.3 628.00,451.1 628.25,450.7 628.50,451.3 628.75,450.6 629.00,450.4 629.25,450.9 629.50,450.0 629.75,450.1 630.00,450.4 630.25,449.7 630.50,450.4 630.75,450.9 631.00,450.4 631.25,451.3 631.50,451.4 631.75,451.0 632.00,452.1 632.25,451.5 632.50,450.6 632.75,451.0 633.00,450.0 633.25,449.4 633.50,449.6 633.75,448.4 634.00,448.1 634.25,448.3 634.50,447.2 634.75,447.4 635.00,447.4 635.25,446.3 635.50,446.7 635.75,446.4 636.00,445.5 636.25,446.0 636.50,445.4 636.75,444.8 637.00,445.4 637.25,444.7 637.50,444.4 637.75,445.0 638.00,444.1 638.25,444.0 638.50,444.5 638.75,443.5 639.00,443.7 639.25,443.9 639.50,443.0 639.75,443.4 640.00,443.4 640.25,442.6 640.50,443.2 640.75,443.0 641.00,442.3 641.25,443.0 641.50,442.5 641.75,442.1 642.00,442.8 642.25,442.0 642.50,442.0 642.75,442.5 643.00,441.7 643.25,441.9 643.50,442.3 643.75,441.5 644.00,442.0 644.25,442.1 644.50,441.3 644.75,442.0 645.00,441.8 645.25,441.2 645.50,441.9 645.75,441.6 646.00,441.3 646.25,442.2 646.50,441.7 646.75,441.7 647.00,442.4 647.25,441.8 647.50,442.1 647.75,442.9 648.00,442.6 648.25,443.6 648.50,444.4 648.75,444.1 649.00,445.1 649.25,445.4 649.50,445.2 649.75,446.3 650.00,446.3 650.25,446.0 650.50,446.4 650.75,445.3 651.00,444.8 651.25,445.0 651.50,443.8 651.75,443.5 652.00,443.6 652.25,442.3 652.50,442.2 652.75,442.0 653.00,440.7 653.25,440.8 653.50,440.2 653.75,439.0 654.00,439.3 654.25,438.5 654.50,437.6 654.75,438.0 655.00,437.1 655.25,436.5 655.50,436.8 655.75,435.7 656.00,435.3 656.25,435.8 656.50,435.5 656.75,436.4 657.00,437.3 657.25,437.0 657.50,438.1 657.75,438.7 658.00,438.6 658.25,439.6 658.50,439.4 658.75,438.9 659.00,439.7 659.25,439.2 659.50,439.0 659.75,439.6 660.00,438.4 660.25,437.9 660.50,438.0 660.75,436.7 661.00,436.5 661.25,436.4 661.50,435.1 661.75,435.5 662.00,436.1 662.25,435.8 662.50,436.9 662.75,437.3 663.00,437.2 663.25,438.4 663.50,438.5 663.75,438.5 664.00,439.5 664.25,439.1 664.50,439.2 664.75,440.1 665.00,439.5 665.25,439.9 665.50,440.2 665.75,439.3 666.00,439.7 666.25,439.8 666.50,439.0 666.75,439.5 667.00,439.4 667.25,438.8 667.50,439.9 667.75,439.8 668.00,439.7 668.25,440.8 668.50,440.5 668.75,440.6 669.00,441.6 669.25,440.9 669.50,440.7 669.75,440.8 670.00,439.6 670.25,439.6 670.50,439.5 670.75,438.4 671.00,438.6 671.25,438.3 671.50,437.4 671.75,438.0 672.00,437.5 672.25,436.9 672.50,437.5 672.75,436.7 673.00,436.4 673.25,436.9 673.50,436.0 673.75,436.0 674.00,436.5 674.25,435.6 674.50,435.9 674.75,436.2 675.00,435.4 675.25,435.9 675.50,435.9 675.75,435.2 676.00,435.9 676.25,435.6 676.50,435.1 676.75,435.9 677.00,435.4 677.25,435.1 677.50,435.9 677.75,435.3 678.00,435.3 678.25,435.9 678.50,435.2 678.75,435.5 679.00,435.9 679.25,435.1 679.50,435.7 679.75,435.9 680.00,435.2 680.25,436.0 680.50,435.9 680.75,435.4 681.00,436.3 681.25,435.9 681.50,435.7 681.75,436.5 682.00,436.0 682.25,436.0 682.50,436.8 682.75,436.1 683.00,436.5 683.25,437.2 683.50,436.6 683.75,437.3 684.00,437.7 684.25,437.2 684.50,438.0 684.75,438.3 685.00,438.4 685.25,439.8 685.50,440.1 685.75,440.4 686.00,441.7 686.25,441.6 686.50,442.0 686.75,443.2 687.00,443.0 687.25,443.6 687.50,443.9 687.75,442.8 688.00,442.9 688.25,442.9 688.50,441.9 688.75,442.2 689.00,441.9 689.25,441.0 689.50,441.4 689.75,440.8 690.00,440.0 690.25,440.4 690.50,439.5 690.75,439.0 691.00,439.4 691.25,438.3 691.50,438.2 691.75,438.5 692.00,437.5 692.25,437.6 692.50,437.7 692.75,436.7 693.00,437.0 693.25,436.9 693.50,436.9 693.75,438.3 694.00,438.8 694.25,439.0 694.50,440.5 694.75,440.7 695.00,441.2 695.25,442.6 695.50,442.1 695.75,442.3 696.00,443.0 696.25,442.4 696.50,442.9 696.75,443.4 697.00,442.2 697.25,442.4 697.50,442.2 697.75,441.1 698.00,441.4 698.25,440.9 698.50,439.9 698.75,440.4 699.00,440.5 699.25,440.8 699.50,442.1 699.75,442.0 700.00,442.5 700.25,443.8 700.50,443.6 700.75,444.4 701.00,445.1 701.25,444.6 701.50,445.4 701.75,446.0 702.00,445.5 702.25,446.5 702.50,446.4 702.75,445.8 703.00,446.6 703.25,446.2 703.50,445.8 703.75,446.6 704.00,446.1 704.25,445.9 704.50,447.0 704.75,446.7 705.00,447.2 705.25,448.1 705.50,447.7 705.75,448.4 706.00,449.1 706.25,448.7 706.50,449.0 706.75,448.7 707.00,447.7 707.25,448.2 707.50,447.6 707.75,446.8 708.00,447.3 708.25,446.5 708.50,446.2 708.75,446.8 709.00,446.0 709.25,445.9 709.50,446.4 709.75,445.4 710.00,445.6 710.25,445.9 710.50,444.9 710.75,445.4 711.00,445.5 711.25,444.8 711.50,445.5 711.75,445.3 712.00,444.7 712.25,445.5 712.50,445.1 712.75,444.8 713.00,445.5 713.25,444.9 713.50,444.9 713.75,445.5 714.00,444.7 714.25,445.0 714.50,445.5 714.75,444.7 715.00,445.3 715.25,445.5 715.50,444.8 715.75,445.5 716.00,445.4 716.25,444.9 716.50,445.7 716.75,445.4 717.00,445.1 717.25,446.0 717.50,445.4 717.75,445.4 718.00,446.2 718.25,445.5 718.50,445.8 718.75,446.3 719.00,445.6 719.25,446.2 719.50,446.5 719.75,445.8 720.00,446.7 720.25,446.8 720.50,446.4 720.75,447.4 721.00,447.2 721.25,447.0 721.50,448.0 721.75,447.7 722.00,448.2 722.25,449.5 722.50,449.4 722.75,450.2 723.00,451.3 723.25,451.0 723.50,451.9 723.75,452.6 724.00,452.3 724.25,453.5 724.50,453.4 724.75,452.4 725.00,452.9 725.25,452.3 725.50,451.5 725.75,452.0 726.00,451.1 726.25,450.6 726.50,451.0 726.75,449.9 727.00,449.6 727.25,449.8 727.50,448.6 727.75,448.5 728.00,448.5 728.25,447.3 728.50,447.6 728.75,447.4 729.00,446.4 729.25,446.8 729.50,446.4 729.75,445.6 730.00,446.1 730.25,445.3 730.50,445.4 730.75,446.8 731.00,446.8 731.25,447.5 731.50,448.7 731.75,448.6 732.00,449.5 732.25,450.6 732.50,450.1 732.75,450.7 733.00,451.0 733.25,450.3 733.50,451.1 733.75,451.1 734.00,450.3 734.25,450.6 734.50,449.8 734.75,449.1 735.00,449.4 735.25,448.4 735.50,447.9 735.75,448.1 736.00,447.6 736.25,448.3 736.50,449.3 736.75,449.0 737.00,450.0 737.25,450.8 737.50,450.5 737.75,451.7 738.00,452.0 738.25,451.6 738.50,452.7 738.75,452.6 739.00,452.5 739.25,453.5 739.50,453.0 739.75,452.8 740.00,453.5 740.25,452.7 740.50,452.8 740.75,453.3 741.00,452.4 741.25,452.8 741.50,453.3 741.75,452.8 742.00,453.8 742.25,454.1 742.50,453.8 742.75,454.9 743.00,454.9 743.25,454.8 743.50,455.4 743.75,454.6 744.00,454.0 744.25,454.4 744.50,453.3 744.75,453.0 745.00,453.2 745.25,452.0 745.50,452.1 745.75,452.3 746.00,451.3 746.25,451.7 746.50,451.6 746.75,450.7 747.00,451.2 747.25,450.8 747.50,450.1 747.75,450.7 748.00,450.1 748.25,449.7 748.50,450.4 748.75,449.6 749.00,449.6 749.25,450.1 749.50,449.2 749.75,449.4 750.00,449.7 750.25,448.8 750.50,449.3 750.75,449.3 751.00,448.5 751.25,449.1 751.50,449.0 751.75,448.3 752.00,449.1 752.25,448.6 752.50,448.2 752.75,448.9 753.00,448.2 753.25,448.1 753.50,448.7 753.75,447.9 754.00,448.1 754.25,448.5 754.50,447.7 754.75,448.2 755.00,448.4 755.25,447.6 755.50,448.2 755.75,448.1 756.00,447.5 756.25,448.3 756.50,447.9 756.75,447.5 757.00,448.3 757.25,447.9 757.50,447.9 757.75,448.7 758.00,448.0 758.25,448.3 758.50,448.9 758.75,448.2 759.00,449.0 759.25,449.9 759.50,449.6 759.75,450.8 760.00,451.3 760.25,451.1 760.50,452.2 760.75,452.3 761.00,452.3 761.25,453.5 761.50,453.1 761.75,452.5 762.00,452.8 762.25,451.7 762.50,451.4 762.75,451.5 763.00,450.3 763.25,450.3 763.50,450.2 763.75,448.9 764.00,449.0 764.25,448.6 764.50,447.4 764.75,447.7 765.00,447.0 765.25,446.0 765.50,446.3 765.75,445.5 766.00,444.9 766.25,445.3 766.50,444.3 766.75,443.9 767.00,444.2 767.25,443.0 767.50,443.2 767.75,444.2 768.00,444.0 768.25,445.1 768.50,445.8 768.75,445.6 769.00,446.9 769.25,447.3 769.50,447.1 769.75,447.9 770.00,447.6 770.25,447.3 770.50,448.1 770.75,447.5 771.00,447.2 771.25,447.4 771.50,446.1 771.75,445.9 772.00,445.8 772.25,444.5 772.50,444.5 772.75,444.2 773.00,443.3 773.25,444.4 773.50,444.8 773.75,444.6 774.00,445.8 774.25,446.0 774.50,446.0 774.75,447.2 775.00,447.0 775.25,447.1 775.50,448.0 775.75,447.5 776.00,447.8 776.25,448.6 776.50,447.8 776.75,448.2 777.00,448.3 777.25,447.4 777.50,448.0 777.75,447.9 778.00,447.1 778.25,447.8 778.50,447.5 778.75,447.4 779.00,448.4 779.25,448.2 779.50,448.3 779.75,449.3 780.00,448.9 780.25,449.2 780.50,449.9 780.75,448.7 781.00,448.6 781.25,448.6 781.50,447.4 781.75,447.6 782.00,447.3 782.25,446.2 782.50,446.6 782.75,446.2 783.00,445.5 783.25,446.1 783.50,445.4 783.75,444.9 784.00,445.5 784.25,444.6 784.50,444.4 784.75,444.9 785.00,443.9 785.25,444.1 785.50,444.5 785.75,443.6 786.00,444.0 786.25,444.1 786.50,443.3 786.75,443.9 787.00,443.7 787.25,443.1 787.50,443.8 787.75,443.3 788.00,443.0 788.25,443.7 788.50,443.1 788.75,443.0 789.00,443.6 789.25,442.8 789.50,443.0 789.75,443.5 790.00,442.7 790.25,443.1 790.50,443.3 790.75,442.6 791.00,443.2 791.25,443.2 791.50,442.6 791.75,443.4 792.00,443.1 792.25,442.7 792.50,443.6 792.75,443.0 793.00,442.9 793.25,443.7 793.50,443.0 793.75,443.2 794.00,443.8 794.25,443.1 794.50,443.7 794.75,444.1 795.00,443.5 795.25,444.3 795.50,444.5 795.75,444.0 796.00,445.0 796.25,445.4 796.50,445.5 796.75,446.9 797.00,447.0 797.25,447.2 797.50,448.4 797.75,448.2 798.00,448.7 798.25,449.7 798.50,449.3 798.75,449.3 799.00,449.3 799.25,448.2 799.50,448.4 799.75,448.1 800.00,447.1 800.25,447.5 800.50,446.9 800.75,446.0 801.00,446.3 801.25,445.5 801.50,444.8 801.75,445.1 802.00,444.0 802.25,443.6 802.50,443.8 802.75,442.7 803.00,442.7 803.25,442.8 803.50,441.7 803.75,441.9 804.00,441.8 804.25,440.7 804.50,441.2 804.75,441.7 805.00,441.7 805.25,443.1 805.50,443.4 805.75,443.7 806.00,445.1 806.25,445.1 806.50,445.6 806.75,446.4 807.00,445.7 807.25,446.0 807.50,446.6 807.75,445.9 808.00,446.4 808.25,446.2 808.50,445.0 808.75,445.3 809.00,444.8 809.25,443.7 809.50,444.1 809.75,443.3 810.00,442.5 810.25,443.8 810.50,443.7 810.75,444.1 811.00,445.3 811.25,445.1 811.50,445.7 811.75,446.8 812.00,446.5 812.25,447.1 812.50,447.7 812.75,447.2 813.00,448.1 813.25,448.3 813.50,447.9 813.75,448.6 814.00,448.3 814.25,447.8 814.50,448.5 814.75,448.0 815.00,447.7 815.25,448.4 815.50,447.7 815.75,448.1 816.00,449.0 816.25,448.5 816.50,449.2 816.75,449.8 817.00,449.4 817.25,450.3 817.50,450.7 817.75,449.6 818.00,450.0 818.25,449.4 818.50,448.5 818.75,449.0 819.00,448.1 819.25,447.5 819.50,447.9 819.75,447.1 820.00,446.9 820.25,447.3 820.50,446.3 820.75,446.4 821.00,446.7 821.25,445.7 821.50,446.0 821.75,446.0 822.00,445.1 822.25,445.7 822.50,445.5 822.75,444.9 823.00,445.6 823.25,445.1 823.50,444.7 823.75,445.4 824.00,444.8 824.25,444.6 824.50,445.2 824.75,444.4 825.00,444.6 825.25,445.0 825.50,444.2 825.75,444.7 826.00,444.9 826.25,444.1 826.50,444.7 826.75,444.7 827.00,444.0 827.25,444.8 827.50,444.4 827.75,444.0 828.00,444.8 828.25,444.3 828.50,444.2 828.75,444.9 829.00,444.2 829.25,444.4 829.50,445.0 829.75,444.2 830.00,444.6 830.25,444.9 830.50,444.2 830.75,444.9 831.00,444.9 831.25,444.4 831.50,445.3 831.75,445.2 832.00,444.9 832.25,445.9 832.50,445.5 832.75,445.5 833.00,446.4 833.25,446.3 833.50,446.9 833.75,448.1 834.00,447.9 834.25,448.8 834.50,449.6 834.75,449.2 835.00,450.3 835.25,450.8 835.50,450.5 835.75,451.2 836.00,450.6 836.25,449.7 836.50,450.2 836.75,449.4 837.00,448.7 837.25,449.1 837.50,448.1 837.75,447.7 838.00,447.9 838.25,446.7 838.50,446.6 838.75,446.6 839.00,445.3 839.25,445.4 839.50,445.2 839.75,444.1 840.00,444.5 840.25,444.0 840.50,443.1 840.75,443.6 841.00,442.9 841.25,442.3 841.50,442.7 841.75,442.4 842.00,443.0 842.25,444.3 842.50,444.1 842.75,445.0 843.00,446.1 843.25,445.9 843.50,447.0 843.75,447.4 844.00,446.7 844.25,447.5 844.50,447.5 844.75,446.9 845.00,447.8 845.25,447.2 845.50,446.3 845.75,446.7 846.00,445.7 846.25,445.1 846.50,445.3 846.75,444.2 847.00,443.9 847.25,444.6 847.50,444.3 847.75,445.2 848.00,446.0 848.25,445.7 848.50,446.8 848.75,447.3 849.00,447.1 849.25,448.2 849.50,448.2 849.75,448.0 850.00,449.0 850.25,448.8 850.50,448.8 850.75,449.6 851.00,448.8 851.25,448.9 851.50,449.4 851.75,448.5 852.00,448.8 852.25,449.1 852.50,448.3 852.75,449.0 853.00,449.4 853.25,449.1 853.50,450.1 853.75,450.2 854.00,450.0 854.25,451.2 854.50,451.0 854.75,450.6 855.00,451.0 855.25,450.0 855.50,449.7 855.75,449.9 856.00,448.8 856.25,448.7 856.50,448.8 856.75,447.7 857.00,448.1 857.25,448.1 857.50,447.2 857.75,447.7 858.00,447.4 858.25,446.6 858.50,447.3 858.75,446.7 859.00,446.2 859.25,446.9 859.50,446.2 859.75,446.1 860.00,446.7 860.25,445.9 860.50,446.0 860.75,446.5 861.00,445.6 861.25,446.0 861.50,446.2 861.75,445.4 862.00,446.0 862.25,445.9 862.50,445.3 862.75,446.0 863.00,445.7 863.25,445.3 863.50,446.1 863.75,445.5 864.00,445.4 864.25,446.0 864.50,445.3 864.75,445.4 865.00,446.0 865.25,445.2 865.50,445.6 865.75,445.9 866.00,445.2 866.25,445.9 866.50,445.9 866.75,445.3 867.00,446.1 867.25,445.8 867.50,445.4 867.75,446.2 868.00,445.7 868.25,445.6 868.50,446.5 868.75,446.0 869.00,446.2 869.25,446.9 869.50,446.3 869.75,446.8 870.00,447.3 870.25,447.0 870.50,448.1 870.75,448.8 871.00,448.7 871.25,450.0 871.50,450.2 871.75,450.1 872.00,451.4 872.25,451.3 872.50,451.5 872.75,452.4 873.00,451.4 873.25,451.0 873.50,451.3 873.75,450.2 874.00,450.1 874.25,450.1 874.50,448.9 874.75,449.1 875.00,448.8 875.25,447.6 875.50,447.9 875.75,447.3 876.00,446.3 876.25,446.7 876.50,445.8 876.75,445.1 877.00,445.5 877.25,444.6 877.50,444.2 877.75,444.5 878.00,443.5 878.25,443.3 878.50,443.5 878.75,442.7 879.00,443.8 879.25,444.6 879.50,444.4 879.75,445.7 880.00,446.3 880.25,446.3 880.50,447.6 880.75,447.7 881.00,447.4 881.25,448.3 881.50,447.8 881.75,447.7 882.00,448.5 882.25,447.6 882.50,447.3 882.75,447.4 883.00,446.1 883.25,446.1 883.50,445.9 883.75,444.7 884.00,444.9 884.25,444.8 884.50,444.6 884.75,445.9 885.00,446.1 885.25,446.1 885.50,447.4 885.75,447.4 886.00,447.7 886.25,448.9 886.50,448.4 886.75,448.8 887.00,449.6 887.25,449.1 887.50,449.7 887.75,450.2 888.00,449.3 888.25,449.9 888.50,449.9 888.75,449.1 889.00,449.8 889.25,449.6 889.50,449.0 889.75,449.9 890.00,449.8 890.25,449.8 890.50,450.9 890.75,450.6 891.00,450.9 891.25,451.9 891.50,451.5 891.75,451.8 892.00,451.9 892.25,450.7 892.50,450.9 892.75,450.7 893.00,449.6 893.25,450.0 893.50,449.5 893.75,448.6 894.00,449.3 894.25,448.7 894.50,448.2 894.75,448.8 895.00,448.0 895.25,447.7 895.50,448.2 895.75,447.3 896.00,447.3 896.25,447.7 896.50,446.8 896.75,447.2 897.00,447.3 897.25,446.5 897.50,447.1 897.75,447.0 898.00,446.3 898.25,447.0 898.50,446.6 898.75,446.2 899.00,446.9 899.25,446.3 899.50,446.1 899.75,446.8 900.00,446.1 900.25,446.2 900.50,446.7 900.75,445.9 901.00,446.3 901.25,446.5 901.50,445.7 901.75,446.3 902.00,446.3 902.25,445.7 902.50,446.5 902.75,446.2 903.00,445.8 903.25,446.6 903.50,446.1 903.75,445.9 904.00,446.7 904.25,446.0 904.50,446.1 904.75,446.8 905.00,446.0 905.25,446.4 905.50,446.9 905.75,446.3 906.00,447.0 906.25,447.2 906.50,446.7 906.75,447.6 907.00,447.5 907.25,447.3 907.50,448.7 907.75,448.9 908.00,449.2 908.25,450.5 908.50,450.3 908.75,450.8 909.00,451.9 909.25,451.5 909.50,452.3 909.75,453.1 910.00,451.9 910.25,452.1 910.50,451.9 910.75,450.8 911.00,451.2 911.25,450.7 911.50,449.7 911.75,450.1 912.00,449.3 912.25,448.5 912.50,448.9 912.75,447.8 913.00,447.3 913.25,447.6 913.50,446.4 913.75,446.2 914.00,446.3 914.25,445.2 914.50,445.3 914.75,445.2 915.00,444.1 915.25,444.5 915.50,444.1 915.75,443.2 916.00,444.6 916.25,444.8 916.50,445.0 916.75,446.4 917.00,446.5 917.25,447.0 917.50,448.3 917.75,448.1 918.00,448.3 918.25,448.9 918.50,448.2 918.75,448.7 919.00,449.0 919.25,448.3 919.50,448.5 919.75,448.0 920.00,446.9 920.25,447.2 920.50,446.5 920.75,445.6 921.00,445.9 921.25,445.0 921.50,445.2 921.75,446.5 922.00,446.3 922.25,446.8 922.50,447.9 922.75,447.6 923.00,448.4 923.25,449.3 923.50,448.7 923.75,449.6 924.00,449.9 924.25,449.5 924.50,450.4 924.75,450.5 925.00,449.9 925.25,450.7 925.50,450.1 925.75,449.8 926.00,450.5 926.25,449.8 926.50,449.8 926.75,450.4 927.00,449.9 927.25,450.5 927.50,451.3 927.75,450.8 928.00,451.7 928.25,452.1 928.50,451.7 928.75,452.8 929.00,452.3 929.25,451.4 929.50,451.8 929.75,451.0 930.00,450.4 930.25,450.8 930.50,449.8 930.75,449.4 931.00,449.9 931.25,449.0 931.50,449.0 931.75,449.3 932.00,448.3 932.25,448.6 932.50,448.6 932.75,447.7 933.00,448.2 933.25,447.9 933.50,447.3 933.75,448.0 934.00,447.6 934.25,447.1 934.50,447.8 934.75,447.2 935.00,447.0 935.25,447.6 935.50,446.8 935.75,446.9 936.00,447.4 936.25,446.5 936.50,446.9 936.75,447.1 937.00,446.3 937.25,446.9 937.50,446.9 937.75,446.2 938.00,446.9" fill="none" stroke="#0072B2" stroke-width="2.1" stroke-linejoin="round" stroke-linecap="butt"/>
<rect x="937.3" y="445.3" width="8.0" height="52.2" fill="#0072B2"/>
<circle cx="940.2" cy="452.8" r="4.17" fill="#ff0000"/>
</g>
<g stroke="#000" stroke-width="1.11" fill="none">
<line x1="198.5" y1="542.5" x2="198.5" y2="547.8"/><line x1="347.5" y1="542.5" x2="347.5" y2="547.8"/><line x1="495.5" y1="542.5" x2="495.5" y2="547.8"/><line x1="643.5" y1="542.5" x2="643.5" y2="547.8"/><line x1="792.5" y1="542.5" x2="792.5" y2="547.8"/><line x1="940.5" y1="542.5" x2="940.5" y2="547.8"/><line x1="83.2" y1="468.5" x2="88.5" y2="468.5"/><line x1="83.2" y1="371.5" x2="88.5" y2="371.5"/><line x1="83.2" y1="275.5" x2="88.5" y2="275.5"/><line x1="83.2" y1="178.5" x2="88.5" y2="178.5"/><line x1="83.2" y1="81.5" x2="88.5" y2="81.5"/></g>
<rect x="88.5" y="15.5" width="897.0" height="527.0" fill="none" stroke="#000" stroke-width="1.11"/>
<text x="198.7" y="562.3" text-anchor="middle">2006</text><text x="347.1" y="562.3" text-anchor="middle">2010</text><text x="495.4" y="562.3" text-anchor="middle">2014</text><text x="643.7" y="562.3" text-anchor="middle">2018</text><text x="792.0" y="562.3" text-anchor="middle">2022</text><text x="940.4" y="562.3" text-anchor="middle">2026</text><text x="70.86" y="472.7">0</text><text x="43.10 50.79 59.63 68.06" y="377.1">5000</text><text x="34.97 42.70 51.29 60.13 68.96" y="279.6">10000</text><text x="34.97 43.45 51.29 60.13 68.96" y="182.7">15000</text><text x="34.62 43.45 52.29 61.13 69.96" y="86.7">20000</text>
<text x="529.07 536.99" y="582.2">ds</text>
<text transform="translate(24.6,278.9) rotate(-90)" text-anchor="middle">y</text>
</svg>
</body></html>
